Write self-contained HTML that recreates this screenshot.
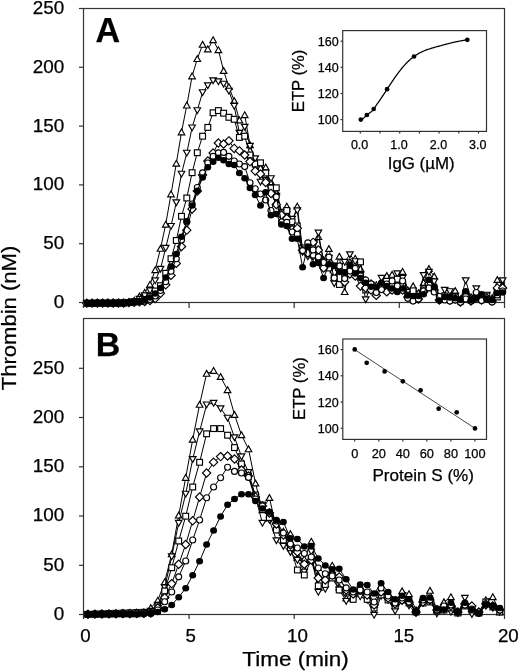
<!DOCTYPE html>
<html><head><meta charset="utf-8"><style>
html,body{margin:0;padding:0;background:#fff;}
svg{display:block;will-change:transform;filter:blur(0.3px);}
text{font-family:"Liberation Sans",sans-serif;fill:#000;stroke:#000;stroke-width:0.25px;}
.ax{fill:none;stroke:#333;stroke-width:1.2;}
.ln{fill:none;stroke:#000;stroke-width:1.0;}
.f{fill:#000;stroke:none;}
.o{fill:#fff;stroke:#000;stroke-width:1.15;}
</style></head><body>
<svg width="520" height="672" viewBox="0 0 520 672">
<rect width="520" height="672" fill="#fff"/>
<rect x="83.5" y="8.5" width="421.0" height="294.0" class="ax"/>
<rect x="83.5" y="318.5" width="421.0" height="296.0" class="ax"/>
<g>
<polyline points="86.8,303.2 92.1,303.2 97.3,303.1 102.6,303.1 107.9,303.1 113.1,303.1 118.4,303.0 123.6,303.0 128.9,302.3 134.2,300.5 139.4,296.3 144.7,292.7 150.0,284.5 155.2,270.0 160.5,248.6 165.7,224.5 171.0,194.2 176.3,163.5 181.5,132.2 186.8,105.4 192.1,76.2 197.3,58.9 202.6,44.6 207.8,49.2 213.1,40.0 218.4,50.0 223.6,70.8 228.9,86.9 234.2,100.8 239.4,120.2 244.7,115.0 250.0,145.0 255.2,160.0 260.5,168.0 265.7,167.3 271.0,182.0 276.3,192.0 281.5,214.0 286.8,206.4 292.1,222.0 297.3,206.4 302.6,250.0 307.8,247.0 313.1,253.0 318.4,236.9 323.6,260.0 328.9,248.8 334.2,270.0 339.4,256.5 344.7,291.9 349.9,262.0 355.2,258.5 360.5,268.8 365.7,280.0 371.0,283.0 376.3,285.0 381.5,282.0 386.8,275.8 392.1,274.6 397.3,280.0 402.6,271.7 407.8,290.0 413.1,286.1 418.4,293.0 423.6,282.7 428.9,268.8 434.2,276.3 439.4,298.0 444.7,295.0 449.9,296.0 455.2,290.8 460.5,299.0 465.7,295.4 471.0,297.0 476.3,294.0 481.5,296.0 486.8,297.0 492.1,298.0 497.3,279.8 502.6,285.0" class="ln"/>
<path d="M86.8 300.0L90.1 305.8L83.5 305.8Z" class="o"/><path d="M92.1 300.0L95.4 305.8L88.8 305.8Z" class="o"/><path d="M97.3 299.9L100.6 305.7L94.0 305.7Z" class="o"/><path d="M102.6 299.9L105.9 305.7L99.3 305.7Z" class="o"/><path d="M107.9 299.9L111.2 305.7L104.6 305.7Z" class="o"/><path d="M113.1 299.9L116.4 305.7L109.8 305.7Z" class="o"/><path d="M118.4 299.8L121.7 305.6L115.1 305.6Z" class="o"/><path d="M123.6 299.8L126.9 305.6L120.3 305.6Z" class="o"/><path d="M128.9 299.1L132.2 304.9L125.6 304.9Z" class="o"/><path d="M134.2 297.3L137.5 303.1L130.9 303.1Z" class="o"/><path d="M139.4 293.1L142.7 298.9L136.1 298.9Z" class="o"/><path d="M144.7 289.5L148.0 295.3L141.4 295.3Z" class="o"/><path d="M150.0 281.3L153.3 287.1L146.7 287.1Z" class="o"/><path d="M155.2 266.8L158.5 272.6L151.9 272.6Z" class="o"/><path d="M160.5 245.4L163.8 251.2L157.2 251.2Z" class="o"/><path d="M165.7 221.3L169.0 227.1L162.4 227.1Z" class="o"/><path d="M171.0 191.0L174.3 196.8L167.7 196.8Z" class="o"/><path d="M176.3 160.3L179.6 166.1L173.0 166.1Z" class="o"/><path d="M181.5 129.0L184.8 134.8L178.2 134.8Z" class="o"/><path d="M186.8 102.2L190.1 108.0L183.5 108.0Z" class="o"/><path d="M192.1 73.0L195.4 78.8L188.8 78.8Z" class="o"/><path d="M197.3 55.7L200.6 61.5L194.0 61.5Z" class="o"/><path d="M202.6 41.4L205.9 47.2L199.3 47.2Z" class="o"/><path d="M207.8 46.0L211.1 51.8L204.5 51.8Z" class="o"/><path d="M213.1 36.8L216.4 42.6L209.8 42.6Z" class="o"/><path d="M218.4 46.8L221.7 52.6L215.1 52.6Z" class="o"/><path d="M223.6 67.6L226.9 73.4L220.3 73.4Z" class="o"/><path d="M228.9 83.7L232.2 89.5L225.6 89.5Z" class="o"/><path d="M234.2 97.6L237.5 103.4L230.9 103.4Z" class="o"/><path d="M239.4 117.0L242.7 122.8L236.1 122.8Z" class="o"/><path d="M244.7 111.8L248.0 117.6L241.4 117.6Z" class="o"/><path d="M250.0 141.8L253.3 147.6L246.7 147.6Z" class="o"/><path d="M255.2 156.8L258.5 162.6L251.9 162.6Z" class="o"/><path d="M260.5 164.8L263.8 170.6L257.2 170.6Z" class="o"/><path d="M265.7 164.1L269.0 169.9L262.4 169.9Z" class="o"/><path d="M271.0 178.8L274.3 184.6L267.7 184.6Z" class="o"/><path d="M276.3 188.8L279.6 194.6L273.0 194.6Z" class="o"/><path d="M281.5 210.8L284.8 216.6L278.2 216.6Z" class="o"/><path d="M286.8 203.2L290.1 209.0L283.5 209.0Z" class="o"/><path d="M292.1 218.8L295.4 224.6L288.8 224.6Z" class="o"/><path d="M297.3 203.2L300.6 209.0L294.0 209.0Z" class="o"/><path d="M302.6 246.8L305.9 252.6L299.3 252.6Z" class="o"/><path d="M307.8 243.8L311.1 249.6L304.5 249.6Z" class="o"/><path d="M313.1 249.8L316.4 255.6L309.8 255.6Z" class="o"/><path d="M318.4 233.7L321.7 239.5L315.1 239.5Z" class="o"/><path d="M323.6 256.8L326.9 262.6L320.3 262.6Z" class="o"/><path d="M328.9 245.6L332.2 251.4L325.6 251.4Z" class="o"/><path d="M334.2 266.8L337.5 272.6L330.9 272.6Z" class="o"/><path d="M339.4 253.3L342.7 259.1L336.1 259.1Z" class="o"/><path d="M344.7 288.7L348.0 294.5L341.4 294.5Z" class="o"/><path d="M349.9 258.8L353.2 264.6L346.6 264.6Z" class="o"/><path d="M355.2 255.3L358.5 261.1L351.9 261.1Z" class="o"/><path d="M360.5 265.6L363.8 271.4L357.2 271.4Z" class="o"/><path d="M365.7 276.8L369.0 282.6L362.4 282.6Z" class="o"/><path d="M371.0 279.8L374.3 285.6L367.7 285.6Z" class="o"/><path d="M376.3 281.8L379.6 287.6L373.0 287.6Z" class="o"/><path d="M381.5 278.8L384.8 284.6L378.2 284.6Z" class="o"/><path d="M386.8 272.6L390.1 278.4L383.5 278.4Z" class="o"/><path d="M392.1 271.4L395.4 277.2L388.8 277.2Z" class="o"/><path d="M397.3 276.8L400.6 282.6L394.0 282.6Z" class="o"/><path d="M402.6 268.5L405.9 274.3L399.3 274.3Z" class="o"/><path d="M407.8 286.8L411.1 292.6L404.5 292.6Z" class="o"/><path d="M413.1 282.9L416.4 288.7L409.8 288.7Z" class="o"/><path d="M418.4 289.8L421.7 295.6L415.1 295.6Z" class="o"/><path d="M423.6 279.5L426.9 285.3L420.3 285.3Z" class="o"/><path d="M428.9 265.6L432.2 271.4L425.6 271.4Z" class="o"/><path d="M434.2 273.1L437.5 278.9L430.9 278.9Z" class="o"/><path d="M439.4 294.8L442.7 300.6L436.1 300.6Z" class="o"/><path d="M444.7 291.8L448.0 297.6L441.4 297.6Z" class="o"/><path d="M449.9 292.8L453.2 298.6L446.6 298.6Z" class="o"/><path d="M455.2 287.6L458.5 293.4L451.9 293.4Z" class="o"/><path d="M460.5 295.8L463.8 301.6L457.2 301.6Z" class="o"/><path d="M465.7 292.2L469.0 298.0L462.4 298.0Z" class="o"/><path d="M471.0 293.8L474.3 299.6L467.7 299.6Z" class="o"/><path d="M476.3 290.8L479.6 296.6L473.0 296.6Z" class="o"/><path d="M481.5 292.8L484.8 298.6L478.2 298.6Z" class="o"/><path d="M486.8 293.8L490.1 299.6L483.5 299.6Z" class="o"/><path d="M492.1 294.8L495.4 300.6L488.8 300.6Z" class="o"/><path d="M497.3 276.6L500.6 282.4L494.0 282.4Z" class="o"/><path d="M502.6 281.8L505.9 287.6L499.3 287.6Z" class="o"/>
<polyline points="86.8,303.2 92.1,303.2 97.3,303.1 102.6,303.1 107.9,303.1 113.1,303.1 118.4,303.0 123.6,303.0 128.9,302.2 134.2,301.5 139.4,299.0 144.7,295.5 150.0,290.5 155.2,280.5 160.5,268.9 165.7,248.0 171.0,226.1 176.3,202.4 181.5,173.8 186.8,152.8 192.1,127.6 197.3,110.3 202.6,92.3 207.8,85.4 213.1,80.5 218.4,81.5 223.6,83.8 228.9,90.8 234.2,106.0 239.4,132.9 244.7,126.9 250.0,146.0 255.2,158.4 260.5,181.8 265.7,180.0 271.0,178.3 276.3,196.0 281.5,212.0 286.8,214.0 292.1,219.0 297.3,210.5 302.6,252.0 307.8,256.5 313.1,257.0 318.4,232.7 323.6,262.0 328.9,258.0 334.2,283.3 339.4,266.0 344.7,262.0 349.9,254.4 355.2,261.3 360.5,275.0 365.7,299.4 371.0,285.0 376.3,290.0 381.5,278.0 386.8,288.0 392.1,284.0 397.3,273.5 402.6,278.0 407.8,292.0 413.1,294.0 418.4,297.0 423.6,275.2 428.9,272.0 434.2,281.5 439.4,297.0 444.7,290.0 449.9,291.3 455.2,296.0 460.5,300.0 465.7,280.4 471.0,299.0 476.3,288.4 481.5,297.0 486.8,294.8 492.1,301.0 497.3,292.0 502.6,280.4" class="ln"/>
<path d="M86.8 306.4L90.1 300.6L83.5 300.6Z" class="o"/><path d="M92.1 306.4L95.4 300.6L88.8 300.6Z" class="o"/><path d="M97.3 306.3L100.6 300.5L94.0 300.5Z" class="o"/><path d="M102.6 306.3L105.9 300.5L99.3 300.5Z" class="o"/><path d="M107.9 306.3L111.2 300.5L104.6 300.5Z" class="o"/><path d="M113.1 306.3L116.4 300.5L109.8 300.5Z" class="o"/><path d="M118.4 306.2L121.7 300.4L115.1 300.4Z" class="o"/><path d="M123.6 306.2L126.9 300.4L120.3 300.4Z" class="o"/><path d="M128.9 305.4L132.2 299.6L125.6 299.6Z" class="o"/><path d="M134.2 304.7L137.5 298.9L130.9 298.9Z" class="o"/><path d="M139.4 302.2L142.7 296.4L136.1 296.4Z" class="o"/><path d="M144.7 298.7L148.0 292.9L141.4 292.9Z" class="o"/><path d="M150.0 293.7L153.3 287.9L146.7 287.9Z" class="o"/><path d="M155.2 283.7L158.5 277.9L151.9 277.9Z" class="o"/><path d="M160.5 272.1L163.8 266.3L157.2 266.3Z" class="o"/><path d="M165.7 251.2L169.0 245.4L162.4 245.4Z" class="o"/><path d="M171.0 229.3L174.3 223.5L167.7 223.5Z" class="o"/><path d="M176.3 205.6L179.6 199.8L173.0 199.8Z" class="o"/><path d="M181.5 177.0L184.8 171.2L178.2 171.2Z" class="o"/><path d="M186.8 156.0L190.1 150.2L183.5 150.2Z" class="o"/><path d="M192.1 130.8L195.4 125.0L188.8 125.0Z" class="o"/><path d="M197.3 113.5L200.6 107.7L194.0 107.7Z" class="o"/><path d="M202.6 95.5L205.9 89.7L199.3 89.7Z" class="o"/><path d="M207.8 88.6L211.1 82.8L204.5 82.8Z" class="o"/><path d="M213.1 83.7L216.4 77.9L209.8 77.9Z" class="o"/><path d="M218.4 84.7L221.7 78.9L215.1 78.9Z" class="o"/><path d="M223.6 87.0L226.9 81.2L220.3 81.2Z" class="o"/><path d="M228.9 94.0L232.2 88.2L225.6 88.2Z" class="o"/><path d="M234.2 109.2L237.5 103.4L230.9 103.4Z" class="o"/><path d="M239.4 136.1L242.7 130.3L236.1 130.3Z" class="o"/><path d="M244.7 130.1L248.0 124.3L241.4 124.3Z" class="o"/><path d="M250.0 149.2L253.3 143.4L246.7 143.4Z" class="o"/><path d="M255.2 161.6L258.5 155.8L251.9 155.8Z" class="o"/><path d="M260.5 185.0L263.8 179.2L257.2 179.2Z" class="o"/><path d="M265.7 183.2L269.0 177.4L262.4 177.4Z" class="o"/><path d="M271.0 181.5L274.3 175.7L267.7 175.7Z" class="o"/><path d="M276.3 199.2L279.6 193.4L273.0 193.4Z" class="o"/><path d="M281.5 215.2L284.8 209.4L278.2 209.4Z" class="o"/><path d="M286.8 217.2L290.1 211.4L283.5 211.4Z" class="o"/><path d="M292.1 222.2L295.4 216.4L288.8 216.4Z" class="o"/><path d="M297.3 213.7L300.6 207.9L294.0 207.9Z" class="o"/><path d="M302.6 255.2L305.9 249.4L299.3 249.4Z" class="o"/><path d="M307.8 259.7L311.1 253.9L304.5 253.9Z" class="o"/><path d="M313.1 260.2L316.4 254.4L309.8 254.4Z" class="o"/><path d="M318.4 235.9L321.7 230.1L315.1 230.1Z" class="o"/><path d="M323.6 265.2L326.9 259.4L320.3 259.4Z" class="o"/><path d="M328.9 261.2L332.2 255.4L325.6 255.4Z" class="o"/><path d="M334.2 286.5L337.5 280.7L330.9 280.7Z" class="o"/><path d="M339.4 269.2L342.7 263.4L336.1 263.4Z" class="o"/><path d="M344.7 265.2L348.0 259.4L341.4 259.4Z" class="o"/><path d="M349.9 257.6L353.2 251.8L346.6 251.8Z" class="o"/><path d="M355.2 264.5L358.5 258.7L351.9 258.7Z" class="o"/><path d="M360.5 278.2L363.8 272.4L357.2 272.4Z" class="o"/><path d="M365.7 302.6L369.0 296.8L362.4 296.8Z" class="o"/><path d="M371.0 288.2L374.3 282.4L367.7 282.4Z" class="o"/><path d="M376.3 293.2L379.6 287.4L373.0 287.4Z" class="o"/><path d="M381.5 281.2L384.8 275.4L378.2 275.4Z" class="o"/><path d="M386.8 291.2L390.1 285.4L383.5 285.4Z" class="o"/><path d="M392.1 287.2L395.4 281.4L388.8 281.4Z" class="o"/><path d="M397.3 276.7L400.6 270.9L394.0 270.9Z" class="o"/><path d="M402.6 281.2L405.9 275.4L399.3 275.4Z" class="o"/><path d="M407.8 295.2L411.1 289.4L404.5 289.4Z" class="o"/><path d="M413.1 297.2L416.4 291.4L409.8 291.4Z" class="o"/><path d="M418.4 300.2L421.7 294.4L415.1 294.4Z" class="o"/><path d="M423.6 278.4L426.9 272.6L420.3 272.6Z" class="o"/><path d="M428.9 275.2L432.2 269.4L425.6 269.4Z" class="o"/><path d="M434.2 284.7L437.5 278.9L430.9 278.9Z" class="o"/><path d="M439.4 300.2L442.7 294.4L436.1 294.4Z" class="o"/><path d="M444.7 293.2L448.0 287.4L441.4 287.4Z" class="o"/><path d="M449.9 294.5L453.2 288.7L446.6 288.7Z" class="o"/><path d="M455.2 299.2L458.5 293.4L451.9 293.4Z" class="o"/><path d="M460.5 303.2L463.8 297.4L457.2 297.4Z" class="o"/><path d="M465.7 283.6L469.0 277.8L462.4 277.8Z" class="o"/><path d="M471.0 302.2L474.3 296.4L467.7 296.4Z" class="o"/><path d="M476.3 291.6L479.6 285.8L473.0 285.8Z" class="o"/><path d="M481.5 300.2L484.8 294.4L478.2 294.4Z" class="o"/><path d="M486.8 298.0L490.1 292.2L483.5 292.2Z" class="o"/><path d="M492.1 304.2L495.4 298.4L488.8 298.4Z" class="o"/><path d="M497.3 295.2L500.6 289.4L494.0 289.4Z" class="o"/><path d="M502.6 283.6L505.9 277.8L499.3 277.8Z" class="o"/>
<polyline points="86.8,303.2 92.1,303.2 97.3,303.1 102.6,303.1 107.9,303.1 113.1,303.1 118.4,303.0 123.6,303.0 128.9,302.5 134.2,302.0 139.4,301.5 144.7,299.5 150.0,296.5 155.2,291.0 160.5,285.7 165.7,273.3 171.0,258.7 176.3,240.5 181.5,216.3 186.8,198.0 192.1,172.7 197.3,152.7 202.6,136.2 207.8,127.4 213.1,112.8 218.4,110.6 223.6,113.2 228.9,117.3 234.2,119.3 239.4,137.4 244.7,136.2 250.0,155.0 255.2,164.0 260.5,162.8 265.7,173.0 271.0,188.0 276.3,187.8 281.5,213.0 286.8,210.5 292.1,221.8 297.3,226.0 302.6,248.0 307.8,253.0 313.1,255.0 318.4,258.0 323.6,262.0 328.9,268.0 334.2,278.0 339.4,284.5 344.7,276.0 349.9,270.0 355.2,272.0 360.5,261.9 365.7,290.0 371.0,288.0 376.3,292.0 381.5,285.0 386.8,290.0 392.1,286.0 397.3,279.2 402.6,284.0 407.8,295.0 413.1,290.8 418.4,297.0 423.6,290.0 428.9,282.0 434.2,288.0 439.4,299.0 444.7,296.0 449.9,298.0 455.2,297.0 460.5,301.0 465.7,294.0 471.0,300.0 476.3,295.0 481.5,297.0 486.8,296.0 492.1,300.0 497.3,297.0 502.6,290.0" class="ln"/>
<rect x="83.9" y="300.3" width="5.8" height="5.8" class="o"/><rect x="89.2" y="300.3" width="5.8" height="5.8" class="o"/><rect x="94.4" y="300.2" width="5.8" height="5.8" class="o"/><rect x="99.7" y="300.2" width="5.8" height="5.8" class="o"/><rect x="105.0" y="300.2" width="5.8" height="5.8" class="o"/><rect x="110.2" y="300.2" width="5.8" height="5.8" class="o"/><rect x="115.5" y="300.1" width="5.8" height="5.8" class="o"/><rect x="120.7" y="300.1" width="5.8" height="5.8" class="o"/><rect x="126.0" y="299.6" width="5.8" height="5.8" class="o"/><rect x="131.3" y="299.1" width="5.8" height="5.8" class="o"/><rect x="136.5" y="298.6" width="5.8" height="5.8" class="o"/><rect x="141.8" y="296.6" width="5.8" height="5.8" class="o"/><rect x="147.1" y="293.6" width="5.8" height="5.8" class="o"/><rect x="152.3" y="288.1" width="5.8" height="5.8" class="o"/><rect x="157.6" y="282.8" width="5.8" height="5.8" class="o"/><rect x="162.8" y="270.4" width="5.8" height="5.8" class="o"/><rect x="168.1" y="255.8" width="5.8" height="5.8" class="o"/><rect x="173.4" y="237.6" width="5.8" height="5.8" class="o"/><rect x="178.6" y="213.4" width="5.8" height="5.8" class="o"/><rect x="183.9" y="195.1" width="5.8" height="5.8" class="o"/><rect x="189.2" y="169.8" width="5.8" height="5.8" class="o"/><rect x="194.4" y="149.8" width="5.8" height="5.8" class="o"/><rect x="199.7" y="133.3" width="5.8" height="5.8" class="o"/><rect x="204.9" y="124.5" width="5.8" height="5.8" class="o"/><rect x="210.2" y="109.9" width="5.8" height="5.8" class="o"/><rect x="215.5" y="107.7" width="5.8" height="5.8" class="o"/><rect x="220.7" y="110.3" width="5.8" height="5.8" class="o"/><rect x="226.0" y="114.4" width="5.8" height="5.8" class="o"/><rect x="231.3" y="116.4" width="5.8" height="5.8" class="o"/><rect x="236.5" y="134.5" width="5.8" height="5.8" class="o"/><rect x="241.8" y="133.3" width="5.8" height="5.8" class="o"/><rect x="247.1" y="152.1" width="5.8" height="5.8" class="o"/><rect x="252.3" y="161.1" width="5.8" height="5.8" class="o"/><rect x="257.6" y="159.9" width="5.8" height="5.8" class="o"/><rect x="262.8" y="170.1" width="5.8" height="5.8" class="o"/><rect x="268.1" y="185.1" width="5.8" height="5.8" class="o"/><rect x="273.4" y="184.9" width="5.8" height="5.8" class="o"/><rect x="278.6" y="210.1" width="5.8" height="5.8" class="o"/><rect x="283.9" y="207.6" width="5.8" height="5.8" class="o"/><rect x="289.2" y="218.9" width="5.8" height="5.8" class="o"/><rect x="294.4" y="223.1" width="5.8" height="5.8" class="o"/><rect x="299.7" y="245.1" width="5.8" height="5.8" class="o"/><rect x="304.9" y="250.1" width="5.8" height="5.8" class="o"/><rect x="310.2" y="252.1" width="5.8" height="5.8" class="o"/><rect x="315.5" y="255.1" width="5.8" height="5.8" class="o"/><rect x="320.7" y="259.1" width="5.8" height="5.8" class="o"/><rect x="326.0" y="265.1" width="5.8" height="5.8" class="o"/><rect x="331.3" y="275.1" width="5.8" height="5.8" class="o"/><rect x="336.5" y="281.6" width="5.8" height="5.8" class="o"/><rect x="341.8" y="273.1" width="5.8" height="5.8" class="o"/><rect x="347.1" y="267.1" width="5.8" height="5.8" class="o"/><rect x="352.3" y="269.1" width="5.8" height="5.8" class="o"/><rect x="357.6" y="259.0" width="5.8" height="5.8" class="o"/><rect x="362.8" y="287.1" width="5.8" height="5.8" class="o"/><rect x="368.1" y="285.1" width="5.8" height="5.8" class="o"/><rect x="373.4" y="289.1" width="5.8" height="5.8" class="o"/><rect x="378.6" y="282.1" width="5.8" height="5.8" class="o"/><rect x="383.9" y="287.1" width="5.8" height="5.8" class="o"/><rect x="389.2" y="283.1" width="5.8" height="5.8" class="o"/><rect x="394.4" y="276.3" width="5.8" height="5.8" class="o"/><rect x="399.7" y="281.1" width="5.8" height="5.8" class="o"/><rect x="404.9" y="292.1" width="5.8" height="5.8" class="o"/><rect x="410.2" y="287.9" width="5.8" height="5.8" class="o"/><rect x="415.5" y="294.1" width="5.8" height="5.8" class="o"/><rect x="420.7" y="287.1" width="5.8" height="5.8" class="o"/><rect x="426.0" y="279.1" width="5.8" height="5.8" class="o"/><rect x="431.3" y="285.1" width="5.8" height="5.8" class="o"/><rect x="436.5" y="296.1" width="5.8" height="5.8" class="o"/><rect x="441.8" y="293.1" width="5.8" height="5.8" class="o"/><rect x="447.0" y="295.1" width="5.8" height="5.8" class="o"/><rect x="452.3" y="294.1" width="5.8" height="5.8" class="o"/><rect x="457.6" y="298.1" width="5.8" height="5.8" class="o"/><rect x="462.8" y="291.1" width="5.8" height="5.8" class="o"/><rect x="468.1" y="297.1" width="5.8" height="5.8" class="o"/><rect x="473.4" y="292.1" width="5.8" height="5.8" class="o"/><rect x="478.6" y="294.1" width="5.8" height="5.8" class="o"/><rect x="483.9" y="293.1" width="5.8" height="5.8" class="o"/><rect x="489.2" y="297.1" width="5.8" height="5.8" class="o"/><rect x="494.4" y="294.1" width="5.8" height="5.8" class="o"/><rect x="499.7" y="287.1" width="5.8" height="5.8" class="o"/>
<polyline points="86.8,303.2 92.1,303.2 97.3,303.1 102.6,303.1 107.9,303.1 113.1,303.1 118.4,303.0 123.6,303.0 128.9,302.6 134.2,302.2 139.4,301.9 144.7,301.5 150.0,300.5 155.2,298.5 160.5,293.3 165.7,284.8 171.0,275.4 176.3,263.4 181.5,246.5 186.8,230.2 192.1,208.9 197.3,191.0 202.6,175.0 207.8,161.1 213.1,153.0 218.4,143.0 223.6,144.0 228.9,140.8 234.2,148.4 239.4,150.8 244.7,155.0 250.0,161.6 255.2,171.1 260.5,173.9 265.7,182.4 271.0,193.4 276.3,204.5 281.5,215.0 286.8,218.6 292.1,229.5 297.3,228.3 302.6,250.6 307.8,253.0 313.1,242.3 318.4,250.0 323.6,268.0 328.9,262.0 334.2,272.0 339.4,270.0 344.7,282.0 349.9,274.0 355.2,276.0 360.5,286.1 365.7,288.0 371.0,290.0 376.3,295.4 381.5,288.0 386.8,291.9 392.1,290.0 397.3,288.0 402.6,290.0 407.8,297.0 413.1,298.0 418.4,299.0 423.6,292.0 428.9,284.0 434.2,290.0 439.4,300.0 444.7,298.0 449.9,300.0 455.2,299.0 460.5,302.0 465.7,296.0 471.0,301.0 476.3,298.0 481.5,300.0 486.8,298.0 492.1,301.0 497.3,287.9 502.6,288.0" class="ln"/>
<path d="M86.8 299.1L91.0 303.2L86.8 307.3L82.6 303.2Z" class="o"/><path d="M92.1 299.0L96.2 303.2L92.1 307.3L87.9 303.2Z" class="o"/><path d="M97.3 299.0L101.5 303.1L97.3 307.3L93.2 303.1Z" class="o"/><path d="M102.6 299.0L106.7 303.1L102.6 307.3L98.4 303.1Z" class="o"/><path d="M107.9 298.9L112.0 303.1L107.9 307.2L103.7 303.1Z" class="o"/><path d="M113.1 298.9L117.3 303.1L113.1 307.2L109.0 303.1Z" class="o"/><path d="M118.4 298.9L122.5 303.0L118.4 307.2L114.2 303.0Z" class="o"/><path d="M123.6 298.9L127.8 303.0L123.6 307.1L119.5 303.0Z" class="o"/><path d="M128.9 298.5L133.1 302.6L128.9 306.8L124.8 302.6Z" class="o"/><path d="M134.2 298.1L138.3 302.2L134.2 306.4L130.0 302.2Z" class="o"/><path d="M139.4 297.7L143.6 301.9L139.4 306.0L135.3 301.9Z" class="o"/><path d="M144.7 297.4L148.8 301.5L144.7 305.6L140.5 301.5Z" class="o"/><path d="M150.0 296.4L154.1 300.5L150.0 304.6L145.8 300.5Z" class="o"/><path d="M155.2 294.4L159.4 298.5L155.2 302.6L151.1 298.5Z" class="o"/><path d="M160.5 289.2L164.6 293.3L160.5 297.4L156.3 293.3Z" class="o"/><path d="M165.7 280.7L169.9 284.8L165.7 288.9L161.6 284.8Z" class="o"/><path d="M171.0 271.2L175.2 275.4L171.0 279.5L166.9 275.4Z" class="o"/><path d="M176.3 259.2L180.4 263.4L176.3 267.5L172.1 263.4Z" class="o"/><path d="M181.5 242.3L185.7 246.5L181.5 250.7L177.4 246.5Z" class="o"/><path d="M186.8 226.0L190.9 230.2L186.8 234.3L182.6 230.2Z" class="o"/><path d="M192.1 204.8L196.2 208.9L192.1 213.1L187.9 208.9Z" class="o"/><path d="M197.3 186.8L201.5 191.0L197.3 195.2L193.2 191.0Z" class="o"/><path d="M202.6 170.8L206.7 175.0L202.6 179.2L198.4 175.0Z" class="o"/><path d="M207.8 156.9L212.0 161.1L207.8 165.2L203.7 161.1Z" class="o"/><path d="M213.1 148.8L217.3 153.0L213.1 157.2L209.0 153.0Z" class="o"/><path d="M218.4 138.8L222.5 143.0L218.4 147.2L214.2 143.0Z" class="o"/><path d="M223.6 139.8L227.8 144.0L223.6 148.2L219.5 144.0Z" class="o"/><path d="M228.9 136.7L233.1 140.8L228.9 145.0L224.8 140.8Z" class="o"/><path d="M234.2 144.2L238.3 148.4L234.2 152.6L230.0 148.4Z" class="o"/><path d="M239.4 146.7L243.6 150.8L239.4 155.0L235.3 150.8Z" class="o"/><path d="M244.7 150.8L248.8 155.0L244.7 159.2L240.5 155.0Z" class="o"/><path d="M250.0 157.4L254.1 161.6L250.0 165.8L245.8 161.6Z" class="o"/><path d="M255.2 166.9L259.4 171.1L255.2 175.2L251.1 171.1Z" class="o"/><path d="M260.5 169.8L264.6 173.9L260.5 178.1L256.3 173.9Z" class="o"/><path d="M265.7 178.2L269.9 182.4L265.7 186.6L261.6 182.4Z" class="o"/><path d="M271.0 189.2L275.2 193.4L271.0 197.6L266.9 193.4Z" class="o"/><path d="M276.3 200.3L280.4 204.5L276.3 208.7L272.1 204.5Z" class="o"/><path d="M281.5 210.8L285.7 215.0L281.5 219.2L277.4 215.0Z" class="o"/><path d="M286.8 214.4L290.9 218.6L286.8 222.8L282.6 218.6Z" class="o"/><path d="M292.1 225.3L296.2 229.5L292.1 233.7L287.9 229.5Z" class="o"/><path d="M297.3 224.2L301.5 228.3L297.3 232.5L293.2 228.3Z" class="o"/><path d="M302.6 246.4L306.7 250.6L302.6 254.8L298.4 250.6Z" class="o"/><path d="M307.8 248.8L312.0 253.0L307.8 257.1L303.7 253.0Z" class="o"/><path d="M313.1 238.2L317.3 242.3L313.1 246.5L309.0 242.3Z" class="o"/><path d="M318.4 245.8L322.5 250.0L318.4 254.2L314.2 250.0Z" class="o"/><path d="M323.6 263.9L327.8 268.0L323.6 272.1L319.5 268.0Z" class="o"/><path d="M328.9 257.9L333.0 262.0L328.9 266.1L324.7 262.0Z" class="o"/><path d="M334.2 267.9L338.3 272.0L334.2 276.1L330.0 272.0Z" class="o"/><path d="M339.4 265.9L343.6 270.0L339.4 274.1L335.3 270.0Z" class="o"/><path d="M344.7 277.9L348.8 282.0L344.7 286.1L340.5 282.0Z" class="o"/><path d="M349.9 269.9L354.1 274.0L349.9 278.1L345.8 274.0Z" class="o"/><path d="M355.2 271.9L359.4 276.0L355.2 280.1L351.1 276.0Z" class="o"/><path d="M360.5 282.0L364.6 286.1L360.5 290.2L356.3 286.1Z" class="o"/><path d="M365.7 283.9L369.9 288.0L365.7 292.1L361.6 288.0Z" class="o"/><path d="M371.0 285.9L375.2 290.0L371.0 294.1L366.9 290.0Z" class="o"/><path d="M376.3 291.2L380.4 295.4L376.3 299.5L372.1 295.4Z" class="o"/><path d="M381.5 283.9L385.7 288.0L381.5 292.1L377.4 288.0Z" class="o"/><path d="M386.8 287.8L390.9 291.9L386.8 296.0L382.6 291.9Z" class="o"/><path d="M392.1 285.9L396.2 290.0L392.1 294.1L387.9 290.0Z" class="o"/><path d="M397.3 283.9L401.5 288.0L397.3 292.1L393.2 288.0Z" class="o"/><path d="M402.6 285.9L406.7 290.0L402.6 294.1L398.4 290.0Z" class="o"/><path d="M407.8 292.9L412.0 297.0L407.8 301.1L403.7 297.0Z" class="o"/><path d="M413.1 293.9L417.3 298.0L413.1 302.1L409.0 298.0Z" class="o"/><path d="M418.4 294.9L422.5 299.0L418.4 303.1L414.2 299.0Z" class="o"/><path d="M423.6 287.9L427.8 292.0L423.6 296.1L419.5 292.0Z" class="o"/><path d="M428.9 279.9L433.0 284.0L428.9 288.1L424.7 284.0Z" class="o"/><path d="M434.2 285.9L438.3 290.0L434.2 294.1L430.0 290.0Z" class="o"/><path d="M439.4 295.9L443.6 300.0L439.4 304.1L435.3 300.0Z" class="o"/><path d="M444.7 293.9L448.8 298.0L444.7 302.1L440.5 298.0Z" class="o"/><path d="M449.9 295.9L454.1 300.0L449.9 304.1L445.8 300.0Z" class="o"/><path d="M455.2 294.9L459.4 299.0L455.2 303.1L451.1 299.0Z" class="o"/><path d="M460.5 297.9L464.6 302.0L460.5 306.1L456.3 302.0Z" class="o"/><path d="M465.7 291.9L469.9 296.0L465.7 300.1L461.6 296.0Z" class="o"/><path d="M471.0 296.9L475.1 301.0L471.0 305.1L466.8 301.0Z" class="o"/><path d="M476.3 293.9L480.4 298.0L476.3 302.1L472.1 298.0Z" class="o"/><path d="M481.5 295.9L485.7 300.0L481.5 304.1L477.4 300.0Z" class="o"/><path d="M486.8 293.9L490.9 298.0L486.8 302.1L482.6 298.0Z" class="o"/><path d="M492.1 296.9L496.2 301.0L492.1 305.1L487.9 301.0Z" class="o"/><path d="M497.3 283.8L501.5 287.9L497.3 292.0L493.2 287.9Z" class="o"/><path d="M502.6 283.9L506.7 288.0L502.6 292.1L498.4 288.0Z" class="o"/>
<polyline points="86.8,303.2 92.1,303.2 97.3,303.1 102.6,303.1 107.9,303.1 113.1,303.1 118.4,303.0 123.6,303.0 128.9,302.5 134.2,302.0 139.4,301.5 144.7,301.0 150.0,299.5 155.2,296.0 160.5,290.5 165.7,281.7 171.0,271.2 176.3,258.7 181.5,240.0 186.8,222.0 192.1,204.0 197.3,187.5 202.6,172.8 207.8,163.0 213.1,156.4 218.4,152.8 223.6,152.4 228.9,156.3 234.2,161.0 239.4,164.0 244.7,166.6 250.0,182.7 255.2,188.7 260.5,194.0 265.7,200.0 271.0,210.5 276.3,196.9 281.5,221.8 286.8,222.4 292.1,232.0 297.3,234.2 302.6,250.6 307.8,242.9 313.1,250.0 318.4,257.0 323.6,262.5 328.9,257.1 334.2,278.0 339.4,266.0 344.7,278.6 349.9,271.1 355.2,268.3 360.5,276.0 365.7,280.0 371.0,283.8 376.3,292.5 381.5,289.6 386.8,284.0 392.1,281.0 397.3,286.0 402.6,281.0 407.8,298.3 413.1,301.1 418.4,299.0 423.6,291.0 428.9,287.9 434.2,292.0 439.4,296.5 444.7,300.0 449.9,301.1 455.2,300.0 460.5,302.3 465.7,299.0 471.0,301.0 476.3,292.5 481.5,300.6 486.8,299.0 492.1,302.0 497.3,295.0 502.6,291.0" class="ln"/>
<circle cx="86.8" cy="303.2" r="3.0" class="o"/><circle cx="92.1" cy="303.2" r="3.0" class="o"/><circle cx="97.3" cy="303.1" r="3.0" class="o"/><circle cx="102.6" cy="303.1" r="3.0" class="o"/><circle cx="107.9" cy="303.1" r="3.0" class="o"/><circle cx="113.1" cy="303.1" r="3.0" class="o"/><circle cx="118.4" cy="303.0" r="3.0" class="o"/><circle cx="123.6" cy="303.0" r="3.0" class="o"/><circle cx="128.9" cy="302.5" r="3.0" class="o"/><circle cx="134.2" cy="302.0" r="3.0" class="o"/><circle cx="139.4" cy="301.5" r="3.0" class="o"/><circle cx="144.7" cy="301.0" r="3.0" class="o"/><circle cx="150.0" cy="299.5" r="3.0" class="o"/><circle cx="155.2" cy="296.0" r="3.0" class="o"/><circle cx="160.5" cy="290.5" r="3.0" class="o"/><circle cx="165.7" cy="281.7" r="3.0" class="o"/><circle cx="171.0" cy="271.2" r="3.0" class="o"/><circle cx="176.3" cy="258.7" r="3.0" class="o"/><circle cx="181.5" cy="240.0" r="3.0" class="o"/><circle cx="186.8" cy="222.0" r="3.0" class="o"/><circle cx="192.1" cy="204.0" r="3.0" class="o"/><circle cx="197.3" cy="187.5" r="3.0" class="o"/><circle cx="202.6" cy="172.8" r="3.0" class="o"/><circle cx="207.8" cy="163.0" r="3.0" class="o"/><circle cx="213.1" cy="156.4" r="3.0" class="o"/><circle cx="218.4" cy="152.8" r="3.0" class="o"/><circle cx="223.6" cy="152.4" r="3.0" class="o"/><circle cx="228.9" cy="156.3" r="3.0" class="o"/><circle cx="234.2" cy="161.0" r="3.0" class="o"/><circle cx="239.4" cy="164.0" r="3.0" class="o"/><circle cx="244.7" cy="166.6" r="3.0" class="o"/><circle cx="250.0" cy="182.7" r="3.0" class="o"/><circle cx="255.2" cy="188.7" r="3.0" class="o"/><circle cx="260.5" cy="194.0" r="3.0" class="o"/><circle cx="265.7" cy="200.0" r="3.0" class="o"/><circle cx="271.0" cy="210.5" r="3.0" class="o"/><circle cx="276.3" cy="196.9" r="3.0" class="o"/><circle cx="281.5" cy="221.8" r="3.0" class="o"/><circle cx="286.8" cy="222.4" r="3.0" class="o"/><circle cx="292.1" cy="232.0" r="3.0" class="o"/><circle cx="297.3" cy="234.2" r="3.0" class="o"/><circle cx="302.6" cy="250.6" r="3.0" class="o"/><circle cx="307.8" cy="242.9" r="3.0" class="o"/><circle cx="313.1" cy="250.0" r="3.0" class="o"/><circle cx="318.4" cy="257.0" r="3.0" class="o"/><circle cx="323.6" cy="262.5" r="3.0" class="o"/><circle cx="328.9" cy="257.1" r="3.0" class="o"/><circle cx="334.2" cy="278.0" r="3.0" class="o"/><circle cx="339.4" cy="266.0" r="3.0" class="o"/><circle cx="344.7" cy="278.6" r="3.0" class="o"/><circle cx="349.9" cy="271.1" r="3.0" class="o"/><circle cx="355.2" cy="268.3" r="3.0" class="o"/><circle cx="360.5" cy="276.0" r="3.0" class="o"/><circle cx="365.7" cy="280.0" r="3.0" class="o"/><circle cx="371.0" cy="283.8" r="3.0" class="o"/><circle cx="376.3" cy="292.5" r="3.0" class="o"/><circle cx="381.5" cy="289.6" r="3.0" class="o"/><circle cx="386.8" cy="284.0" r="3.0" class="o"/><circle cx="392.1" cy="281.0" r="3.0" class="o"/><circle cx="397.3" cy="286.0" r="3.0" class="o"/><circle cx="402.6" cy="281.0" r="3.0" class="o"/><circle cx="407.8" cy="298.3" r="3.0" class="o"/><circle cx="413.1" cy="301.1" r="3.0" class="o"/><circle cx="418.4" cy="299.0" r="3.0" class="o"/><circle cx="423.6" cy="291.0" r="3.0" class="o"/><circle cx="428.9" cy="287.9" r="3.0" class="o"/><circle cx="434.2" cy="292.0" r="3.0" class="o"/><circle cx="439.4" cy="296.5" r="3.0" class="o"/><circle cx="444.7" cy="300.0" r="3.0" class="o"/><circle cx="449.9" cy="301.1" r="3.0" class="o"/><circle cx="455.2" cy="300.0" r="3.0" class="o"/><circle cx="460.5" cy="302.3" r="3.0" class="o"/><circle cx="465.7" cy="299.0" r="3.0" class="o"/><circle cx="471.0" cy="301.0" r="3.0" class="o"/><circle cx="476.3" cy="292.5" r="3.0" class="o"/><circle cx="481.5" cy="300.6" r="3.0" class="o"/><circle cx="486.8" cy="299.0" r="3.0" class="o"/><circle cx="492.1" cy="302.0" r="3.0" class="o"/><circle cx="497.3" cy="295.0" r="3.0" class="o"/><circle cx="502.6" cy="291.0" r="3.0" class="o"/>
<polyline points="86.8,303.0 92.1,303.0 97.3,303.0 102.6,303.0 107.9,303.0 113.1,303.0 118.4,303.0 123.6,303.0 128.9,302.6 134.2,302.0 139.4,301.2 144.7,300.0 150.0,297.5 155.2,293.5 160.5,287.9 165.7,277.5 171.0,266.6 176.3,254.0 181.5,236.7 186.8,221.2 192.1,205.6 197.3,190.8 202.6,177.6 207.8,167.2 213.1,161.8 218.4,157.8 223.6,160.2 228.9,163.9 234.2,165.0 239.4,173.0 244.7,178.2 250.0,188.1 255.2,195.0 260.5,205.5 265.7,192.2 271.0,215.2 276.3,214.0 281.5,224.5 286.8,226.0 292.1,238.7 297.3,238.7 302.6,267.3 307.8,246.4 313.1,264.3 318.4,263.0 323.6,278.0 328.9,264.3 334.2,265.5 339.4,272.0 344.7,272.3 349.9,264.8 355.2,273.4 360.5,278.0 365.7,282.7 371.0,286.7 376.3,287.3 381.5,282.7 386.8,286.1 392.1,288.4 397.3,291.9 402.6,288.4 407.8,295.4 413.1,296.0 418.4,296.0 423.6,294.2 428.9,279.8 434.2,287.3 439.4,300.6 444.7,297.0 449.9,297.5 455.2,298.3 460.5,300.0 465.7,291.3 471.0,300.0 476.3,297.7 481.5,294.2 486.8,298.8 492.1,300.0 497.3,293.1 502.6,292.5" class="ln"/>
<ellipse cx="86.8" cy="303.0" rx="3.45" ry="3.25" class="f"/><ellipse cx="92.1" cy="303.0" rx="3.45" ry="3.25" class="f"/><ellipse cx="97.3" cy="303.0" rx="3.45" ry="3.25" class="f"/><ellipse cx="102.6" cy="303.0" rx="3.45" ry="3.25" class="f"/><ellipse cx="107.9" cy="303.0" rx="3.45" ry="3.25" class="f"/><ellipse cx="113.1" cy="303.0" rx="3.45" ry="3.25" class="f"/><ellipse cx="118.4" cy="303.0" rx="3.45" ry="3.25" class="f"/><ellipse cx="123.6" cy="303.0" rx="3.45" ry="3.25" class="f"/><ellipse cx="128.9" cy="302.6" rx="3.45" ry="3.25" class="f"/><ellipse cx="134.2" cy="302.0" rx="3.45" ry="3.25" class="f"/><ellipse cx="139.4" cy="301.2" rx="3.45" ry="3.25" class="f"/><ellipse cx="144.7" cy="300.0" rx="3.45" ry="3.25" class="f"/><ellipse cx="150.0" cy="297.5" rx="3.45" ry="3.25" class="f"/><ellipse cx="155.2" cy="293.5" rx="3.45" ry="3.25" class="f"/><ellipse cx="160.5" cy="287.9" rx="3.45" ry="3.25" class="f"/><ellipse cx="165.7" cy="277.5" rx="3.45" ry="3.25" class="f"/><ellipse cx="171.0" cy="266.6" rx="3.45" ry="3.25" class="f"/><ellipse cx="176.3" cy="254.0" rx="3.45" ry="3.25" class="f"/><ellipse cx="181.5" cy="236.7" rx="3.45" ry="3.25" class="f"/><ellipse cx="186.8" cy="221.2" rx="3.45" ry="3.25" class="f"/><ellipse cx="192.1" cy="205.6" rx="3.45" ry="3.25" class="f"/><ellipse cx="197.3" cy="190.8" rx="3.45" ry="3.25" class="f"/><ellipse cx="202.6" cy="177.6" rx="3.45" ry="3.25" class="f"/><ellipse cx="207.8" cy="167.2" rx="3.45" ry="3.25" class="f"/><ellipse cx="213.1" cy="161.8" rx="3.45" ry="3.25" class="f"/><ellipse cx="218.4" cy="157.8" rx="3.45" ry="3.25" class="f"/><ellipse cx="223.6" cy="160.2" rx="3.45" ry="3.25" class="f"/><ellipse cx="228.9" cy="163.9" rx="3.45" ry="3.25" class="f"/><ellipse cx="234.2" cy="165.0" rx="3.45" ry="3.25" class="f"/><ellipse cx="239.4" cy="173.0" rx="3.45" ry="3.25" class="f"/><ellipse cx="244.7" cy="178.2" rx="3.45" ry="3.25" class="f"/><ellipse cx="250.0" cy="188.1" rx="3.45" ry="3.25" class="f"/><ellipse cx="255.2" cy="195.0" rx="3.45" ry="3.25" class="f"/><ellipse cx="260.5" cy="205.5" rx="3.45" ry="3.25" class="f"/><ellipse cx="265.7" cy="192.2" rx="3.45" ry="3.25" class="f"/><ellipse cx="271.0" cy="215.2" rx="3.45" ry="3.25" class="f"/><ellipse cx="276.3" cy="214.0" rx="3.45" ry="3.25" class="f"/><ellipse cx="281.5" cy="224.5" rx="3.45" ry="3.25" class="f"/><ellipse cx="286.8" cy="226.0" rx="3.45" ry="3.25" class="f"/><ellipse cx="292.1" cy="238.7" rx="3.45" ry="3.25" class="f"/><ellipse cx="297.3" cy="238.7" rx="3.45" ry="3.25" class="f"/><ellipse cx="302.6" cy="267.3" rx="3.45" ry="3.25" class="f"/><ellipse cx="307.8" cy="246.4" rx="3.45" ry="3.25" class="f"/><ellipse cx="313.1" cy="264.3" rx="3.45" ry="3.25" class="f"/><ellipse cx="318.4" cy="263.0" rx="3.45" ry="3.25" class="f"/><ellipse cx="323.6" cy="278.0" rx="3.45" ry="3.25" class="f"/><ellipse cx="328.9" cy="264.3" rx="3.45" ry="3.25" class="f"/><ellipse cx="334.2" cy="265.5" rx="3.45" ry="3.25" class="f"/><ellipse cx="339.4" cy="272.0" rx="3.45" ry="3.25" class="f"/><ellipse cx="344.7" cy="272.3" rx="3.45" ry="3.25" class="f"/><ellipse cx="349.9" cy="264.8" rx="3.45" ry="3.25" class="f"/><ellipse cx="355.2" cy="273.4" rx="3.45" ry="3.25" class="f"/><ellipse cx="360.5" cy="278.0" rx="3.45" ry="3.25" class="f"/><ellipse cx="365.7" cy="282.7" rx="3.45" ry="3.25" class="f"/><ellipse cx="371.0" cy="286.7" rx="3.45" ry="3.25" class="f"/><ellipse cx="376.3" cy="287.3" rx="3.45" ry="3.25" class="f"/><ellipse cx="381.5" cy="282.7" rx="3.45" ry="3.25" class="f"/><ellipse cx="386.8" cy="286.1" rx="3.45" ry="3.25" class="f"/><ellipse cx="392.1" cy="288.4" rx="3.45" ry="3.25" class="f"/><ellipse cx="397.3" cy="291.9" rx="3.45" ry="3.25" class="f"/><ellipse cx="402.6" cy="288.4" rx="3.45" ry="3.25" class="f"/><ellipse cx="407.8" cy="295.4" rx="3.45" ry="3.25" class="f"/><ellipse cx="413.1" cy="296.0" rx="3.45" ry="3.25" class="f"/><ellipse cx="418.4" cy="296.0" rx="3.45" ry="3.25" class="f"/><ellipse cx="423.6" cy="294.2" rx="3.45" ry="3.25" class="f"/><ellipse cx="428.9" cy="279.8" rx="3.45" ry="3.25" class="f"/><ellipse cx="434.2" cy="287.3" rx="3.45" ry="3.25" class="f"/><ellipse cx="439.4" cy="300.6" rx="3.45" ry="3.25" class="f"/><ellipse cx="444.7" cy="297.0" rx="3.45" ry="3.25" class="f"/><ellipse cx="449.9" cy="297.5" rx="3.45" ry="3.25" class="f"/><ellipse cx="455.2" cy="298.3" rx="3.45" ry="3.25" class="f"/><ellipse cx="460.5" cy="300.0" rx="3.45" ry="3.25" class="f"/><ellipse cx="465.7" cy="291.3" rx="3.45" ry="3.25" class="f"/><ellipse cx="471.0" cy="300.0" rx="3.45" ry="3.25" class="f"/><ellipse cx="476.3" cy="297.7" rx="3.45" ry="3.25" class="f"/><ellipse cx="481.5" cy="294.2" rx="3.45" ry="3.25" class="f"/><ellipse cx="486.8" cy="298.8" rx="3.45" ry="3.25" class="f"/><ellipse cx="492.1" cy="300.0" rx="3.45" ry="3.25" class="f"/><ellipse cx="497.3" cy="293.1" rx="3.45" ry="3.25" class="f"/><ellipse cx="502.6" cy="292.5" rx="3.45" ry="3.25" class="f"/>
</g>
<g>
<polyline points="88.0,614.3 94.9,614.3 101.9,614.2 108.9,614.2 115.9,614.1 122.9,614.1 129.8,614.0 136.8,614.0 143.8,612.5 150.8,607.9 157.8,600.5 164.7,582.0 171.7,554.1 178.7,515.4 185.7,477.7 192.7,439.5 199.6,404.6 206.6,373.6 213.6,370.7 220.6,376.8 227.6,390.0 234.5,414.8 241.5,435.0 248.5,449.1 255.5,483.3 262.4,510.0 269.4,497.8 276.4,528.0 283.4,531.4 290.4,533.9 297.4,557.9 304.3,559.2 311.3,541.5 318.3,575.6 325.3,579.4 332.2,565.5 339.2,587.3 346.2,598.3 353.2,592.0 360.2,590.0 367.2,593.0 374.1,604.6 381.1,591.9 388.1,597.0 395.1,603.0 402.1,591.1 409.0,594.0 416.0,610.0 423.0,600.0 430.0,590.6 436.9,610.0 443.9,602.1 450.9,597.0 457.9,612.0 464.9,604.0 471.9,608.0 478.8,612.0 485.8,600.0 492.8,597.0 499.8,612.0" class="ln"/>
<path d="M88.0 611.1L91.2 616.9L84.7 616.9Z" class="o"/><path d="M94.9 611.1L98.2 616.9L91.6 616.9Z" class="o"/><path d="M101.9 611.0L105.2 616.8L98.6 616.8Z" class="o"/><path d="M108.9 611.0L112.2 616.8L105.6 616.8Z" class="o"/><path d="M115.9 610.9L119.2 616.7L112.6 616.7Z" class="o"/><path d="M122.9 610.9L126.2 616.7L119.6 616.7Z" class="o"/><path d="M129.8 610.8L133.1 616.6L126.5 616.6Z" class="o"/><path d="M136.8 610.8L140.1 616.6L133.5 616.6Z" class="o"/><path d="M143.8 609.3L147.1 615.1L140.5 615.1Z" class="o"/><path d="M150.8 604.7L154.1 610.5L147.5 610.5Z" class="o"/><path d="M157.8 597.3L161.1 603.1L154.4 603.1Z" class="o"/><path d="M164.7 578.8L168.0 584.6L161.4 584.6Z" class="o"/><path d="M171.7 550.9L175.0 556.7L168.4 556.7Z" class="o"/><path d="M178.7 512.2L182.0 518.0L175.4 518.0Z" class="o"/><path d="M185.7 474.5L189.0 480.3L182.4 480.3Z" class="o"/><path d="M192.7 436.3L196.0 442.1L189.3 442.1Z" class="o"/><path d="M199.6 401.4L202.9 407.2L196.3 407.2Z" class="o"/><path d="M206.6 370.4L209.9 376.2L203.3 376.2Z" class="o"/><path d="M213.6 367.5L216.9 373.3L210.3 373.3Z" class="o"/><path d="M220.6 373.6L223.9 379.4L217.3 379.4Z" class="o"/><path d="M227.6 386.8L230.9 392.6L224.2 392.6Z" class="o"/><path d="M234.5 411.6L237.8 417.4L231.2 417.4Z" class="o"/><path d="M241.5 431.8L244.8 437.6L238.2 437.6Z" class="o"/><path d="M248.5 445.9L251.8 451.7L245.2 451.7Z" class="o"/><path d="M255.5 480.1L258.8 485.9L252.2 485.9Z" class="o"/><path d="M262.4 506.8L265.8 512.6L259.1 512.6Z" class="o"/><path d="M269.4 494.6L272.7 500.4L266.1 500.4Z" class="o"/><path d="M276.4 524.8L279.7 530.6L273.1 530.6Z" class="o"/><path d="M283.4 528.2L286.7 534.0L280.1 534.0Z" class="o"/><path d="M290.4 530.7L293.7 536.5L287.1 536.5Z" class="o"/><path d="M297.4 554.7L300.7 560.5L294.1 560.5Z" class="o"/><path d="M304.3 556.0L307.6 561.8L301.0 561.8Z" class="o"/><path d="M311.3 538.3L314.6 544.1L308.0 544.1Z" class="o"/><path d="M318.3 572.4L321.6 578.2L315.0 578.2Z" class="o"/><path d="M325.3 576.2L328.6 582.0L322.0 582.0Z" class="o"/><path d="M332.2 562.3L335.6 568.1L328.9 568.1Z" class="o"/><path d="M339.2 584.1L342.5 589.9L335.9 589.9Z" class="o"/><path d="M346.2 595.1L349.5 600.9L342.9 600.9Z" class="o"/><path d="M353.2 588.8L356.5 594.6L349.9 594.6Z" class="o"/><path d="M360.2 586.8L363.5 592.6L356.9 592.6Z" class="o"/><path d="M367.2 589.8L370.5 595.6L363.9 595.6Z" class="o"/><path d="M374.1 601.4L377.4 607.2L370.8 607.2Z" class="o"/><path d="M381.1 588.7L384.4 594.5L377.8 594.5Z" class="o"/><path d="M388.1 593.8L391.4 599.6L384.8 599.6Z" class="o"/><path d="M395.1 599.8L398.4 605.6L391.8 605.6Z" class="o"/><path d="M402.1 587.9L405.4 593.7L398.8 593.7Z" class="o"/><path d="M409.0 590.8L412.3 596.6L405.7 596.6Z" class="o"/><path d="M416.0 606.8L419.3 612.6L412.7 612.6Z" class="o"/><path d="M423.0 596.8L426.3 602.6L419.7 602.6Z" class="o"/><path d="M430.0 587.4L433.3 593.2L426.7 593.2Z" class="o"/><path d="M436.9 606.8L440.2 612.6L433.6 612.6Z" class="o"/><path d="M443.9 598.9L447.2 604.7L440.6 604.7Z" class="o"/><path d="M450.9 593.8L454.2 599.6L447.6 599.6Z" class="o"/><path d="M457.9 608.8L461.2 614.6L454.6 614.6Z" class="o"/><path d="M464.9 600.8L468.2 606.6L461.6 606.6Z" class="o"/><path d="M471.9 604.8L475.2 610.6L468.6 610.6Z" class="o"/><path d="M478.8 608.8L482.1 614.6L475.5 614.6Z" class="o"/><path d="M485.8 596.8L489.1 602.6L482.5 602.6Z" class="o"/><path d="M492.8 593.8L496.1 599.6L489.5 599.6Z" class="o"/><path d="M499.8 608.8L503.1 614.6L496.5 614.6Z" class="o"/>
<polyline points="88.0,614.3 94.9,614.3 101.9,614.2 108.9,614.2 115.9,614.1 122.9,614.1 129.8,614.1 136.8,614.0 143.8,614.0 150.8,611.0 157.8,605.0 164.7,587.5 171.7,556.5 178.7,523.0 185.7,493.8 192.7,459.2 199.6,431.5 206.6,404.6 213.6,403.0 220.6,408.5 227.6,417.8 234.5,437.4 241.5,456.5 248.5,472.2 255.5,497.0 262.4,523.0 269.4,520.0 276.4,540.4 283.4,546.1 290.4,552.2 297.4,560.0 304.3,571.8 311.3,551.6 318.3,592.0 325.3,589.0 332.2,575.0 339.2,589.6 346.2,601.1 353.2,597.0 360.2,596.5 367.2,600.0 374.1,615.0 381.1,596.0 388.1,600.0 395.1,610.8 402.1,601.0 409.0,605.6 416.0,613.0 423.0,602.7 430.0,601.0 436.9,613.6 443.9,610.0 450.9,612.0 457.9,613.0 464.9,598.0 471.9,614.2 478.8,613.0 485.8,606.0 492.8,608.0 499.8,612.0" class="ln"/>
<path d="M88.0 617.5L91.2 611.7L84.7 611.7Z" class="o"/><path d="M94.9 617.5L98.2 611.7L91.6 611.7Z" class="o"/><path d="M101.9 617.4L105.2 611.6L98.6 611.6Z" class="o"/><path d="M108.9 617.4L112.2 611.6L105.6 611.6Z" class="o"/><path d="M115.9 617.4L119.2 611.5L112.6 611.5Z" class="o"/><path d="M122.9 617.3L126.2 611.5L119.6 611.5Z" class="o"/><path d="M129.8 617.3L133.1 611.5L126.5 611.5Z" class="o"/><path d="M136.8 617.2L140.1 611.4L133.5 611.4Z" class="o"/><path d="M143.8 617.2L147.1 611.4L140.5 611.4Z" class="o"/><path d="M150.8 614.2L154.1 608.4L147.5 608.4Z" class="o"/><path d="M157.8 608.2L161.1 602.4L154.4 602.4Z" class="o"/><path d="M164.7 590.7L168.0 584.9L161.4 584.9Z" class="o"/><path d="M171.7 559.7L175.0 553.9L168.4 553.9Z" class="o"/><path d="M178.7 526.2L182.0 520.4L175.4 520.4Z" class="o"/><path d="M185.7 497.0L189.0 491.2L182.4 491.2Z" class="o"/><path d="M192.7 462.4L196.0 456.6L189.3 456.6Z" class="o"/><path d="M199.6 434.7L202.9 428.9L196.3 428.9Z" class="o"/><path d="M206.6 407.8L209.9 402.0L203.3 402.0Z" class="o"/><path d="M213.6 406.2L216.9 400.4L210.3 400.4Z" class="o"/><path d="M220.6 411.7L223.9 405.9L217.3 405.9Z" class="o"/><path d="M227.6 421.0L230.9 415.2L224.2 415.2Z" class="o"/><path d="M234.5 440.6L237.8 434.8L231.2 434.8Z" class="o"/><path d="M241.5 459.7L244.8 453.9L238.2 453.9Z" class="o"/><path d="M248.5 475.4L251.8 469.6L245.2 469.6Z" class="o"/><path d="M255.5 500.2L258.8 494.4L252.2 494.4Z" class="o"/><path d="M262.4 526.2L265.8 520.4L259.1 520.4Z" class="o"/><path d="M269.4 523.2L272.7 517.4L266.1 517.4Z" class="o"/><path d="M276.4 543.6L279.7 537.8L273.1 537.8Z" class="o"/><path d="M283.4 549.3L286.7 543.5L280.1 543.5Z" class="o"/><path d="M290.4 555.4L293.7 549.6L287.1 549.6Z" class="o"/><path d="M297.4 563.2L300.7 557.4L294.1 557.4Z" class="o"/><path d="M304.3 575.0L307.6 569.2L301.0 569.2Z" class="o"/><path d="M311.3 554.8L314.6 549.0L308.0 549.0Z" class="o"/><path d="M318.3 595.2L321.6 589.4L315.0 589.4Z" class="o"/><path d="M325.3 592.2L328.6 586.4L322.0 586.4Z" class="o"/><path d="M332.2 578.2L335.6 572.4L328.9 572.4Z" class="o"/><path d="M339.2 592.8L342.5 587.0L335.9 587.0Z" class="o"/><path d="M346.2 604.3L349.5 598.5L342.9 598.5Z" class="o"/><path d="M353.2 600.2L356.5 594.4L349.9 594.4Z" class="o"/><path d="M360.2 599.7L363.5 593.9L356.9 593.9Z" class="o"/><path d="M367.2 603.2L370.5 597.4L363.9 597.4Z" class="o"/><path d="M374.1 618.2L377.4 612.4L370.8 612.4Z" class="o"/><path d="M381.1 599.2L384.4 593.4L377.8 593.4Z" class="o"/><path d="M388.1 603.2L391.4 597.4L384.8 597.4Z" class="o"/><path d="M395.1 614.0L398.4 608.2L391.8 608.2Z" class="o"/><path d="M402.1 604.2L405.4 598.4L398.8 598.4Z" class="o"/><path d="M409.0 608.8L412.3 603.0L405.7 603.0Z" class="o"/><path d="M416.0 616.2L419.3 610.4L412.7 610.4Z" class="o"/><path d="M423.0 605.9L426.3 600.1L419.7 600.1Z" class="o"/><path d="M430.0 604.2L433.3 598.4L426.7 598.4Z" class="o"/><path d="M436.9 616.8L440.2 611.0L433.6 611.0Z" class="o"/><path d="M443.9 613.2L447.2 607.4L440.6 607.4Z" class="o"/><path d="M450.9 615.2L454.2 609.4L447.6 609.4Z" class="o"/><path d="M457.9 616.2L461.2 610.4L454.6 610.4Z" class="o"/><path d="M464.9 601.2L468.2 595.4L461.6 595.4Z" class="o"/><path d="M471.9 617.4L475.2 611.6L468.6 611.6Z" class="o"/><path d="M478.8 616.2L482.1 610.4L475.5 610.4Z" class="o"/><path d="M485.8 609.2L489.1 603.4L482.5 603.4Z" class="o"/><path d="M492.8 611.2L496.1 605.4L489.5 605.4Z" class="o"/><path d="M499.8 615.2L503.1 609.4L496.5 609.4Z" class="o"/>
<polyline points="88.0,614.3 94.9,614.0 101.9,613.8 108.9,613.5 115.9,613.3 122.9,613.0 129.8,612.8 136.8,612.5 143.8,612.3 150.8,612.0 157.8,607.0 164.7,591.0 171.7,567.7 178.7,541.0 185.7,516.2 192.7,487.0 199.6,462.3 206.6,433.8 213.6,428.6 220.6,428.6 227.6,435.2 234.5,447.6 241.5,464.0 248.5,476.0 255.5,495.0 262.4,505.0 269.4,517.5 276.4,530.0 283.4,540.0 290.4,547.8 297.4,570.0 304.3,575.0 311.3,560.0 318.3,585.8 325.3,584.5 332.2,578.0 339.2,590.0 346.2,592.0 353.2,599.4 360.2,590.8 367.2,599.4 374.1,608.0 381.1,595.0 388.1,600.0 395.1,606.0 402.1,600.0 409.0,603.0 416.0,612.0 423.0,603.0 430.0,602.0 436.9,611.0 443.9,610.0 450.9,608.0 457.9,613.0 464.9,606.0 471.9,610.0 478.8,613.0 485.8,602.0 492.8,607.0 499.8,612.0" class="ln"/>
<rect x="85.0" y="611.4" width="5.8" height="5.8" class="o"/><rect x="92.0" y="611.1" width="5.8" height="5.8" class="o"/><rect x="99.0" y="610.9" width="5.8" height="5.8" class="o"/><rect x="106.0" y="610.6" width="5.8" height="5.8" class="o"/><rect x="113.0" y="610.4" width="5.8" height="5.8" class="o"/><rect x="120.0" y="610.1" width="5.8" height="5.8" class="o"/><rect x="126.9" y="609.9" width="5.8" height="5.8" class="o"/><rect x="133.9" y="609.6" width="5.8" height="5.8" class="o"/><rect x="140.9" y="609.4" width="5.8" height="5.8" class="o"/><rect x="147.9" y="609.1" width="5.8" height="5.8" class="o"/><rect x="154.8" y="604.1" width="5.8" height="5.8" class="o"/><rect x="161.8" y="588.1" width="5.8" height="5.8" class="o"/><rect x="168.8" y="564.8" width="5.8" height="5.8" class="o"/><rect x="175.8" y="538.1" width="5.8" height="5.8" class="o"/><rect x="182.8" y="513.3" width="5.8" height="5.8" class="o"/><rect x="189.8" y="484.1" width="5.8" height="5.8" class="o"/><rect x="196.7" y="459.4" width="5.8" height="5.8" class="o"/><rect x="203.7" y="430.9" width="5.8" height="5.8" class="o"/><rect x="210.7" y="425.7" width="5.8" height="5.8" class="o"/><rect x="217.7" y="425.7" width="5.8" height="5.8" class="o"/><rect x="224.7" y="432.3" width="5.8" height="5.8" class="o"/><rect x="231.6" y="444.7" width="5.8" height="5.8" class="o"/><rect x="238.6" y="461.1" width="5.8" height="5.8" class="o"/><rect x="245.6" y="473.1" width="5.8" height="5.8" class="o"/><rect x="252.6" y="492.1" width="5.8" height="5.8" class="o"/><rect x="259.6" y="502.1" width="5.8" height="5.8" class="o"/><rect x="266.5" y="514.6" width="5.8" height="5.8" class="o"/><rect x="273.5" y="527.1" width="5.8" height="5.8" class="o"/><rect x="280.5" y="537.1" width="5.8" height="5.8" class="o"/><rect x="287.5" y="544.9" width="5.8" height="5.8" class="o"/><rect x="294.5" y="567.1" width="5.8" height="5.8" class="o"/><rect x="301.4" y="572.1" width="5.8" height="5.8" class="o"/><rect x="308.4" y="557.1" width="5.8" height="5.8" class="o"/><rect x="315.4" y="582.9" width="5.8" height="5.8" class="o"/><rect x="322.4" y="581.6" width="5.8" height="5.8" class="o"/><rect x="329.4" y="575.1" width="5.8" height="5.8" class="o"/><rect x="336.3" y="587.1" width="5.8" height="5.8" class="o"/><rect x="343.3" y="589.1" width="5.8" height="5.8" class="o"/><rect x="350.3" y="596.5" width="5.8" height="5.8" class="o"/><rect x="357.3" y="587.9" width="5.8" height="5.8" class="o"/><rect x="364.3" y="596.5" width="5.8" height="5.8" class="o"/><rect x="371.2" y="605.1" width="5.8" height="5.8" class="o"/><rect x="378.2" y="592.1" width="5.8" height="5.8" class="o"/><rect x="385.2" y="597.1" width="5.8" height="5.8" class="o"/><rect x="392.2" y="603.1" width="5.8" height="5.8" class="o"/><rect x="399.2" y="597.1" width="5.8" height="5.8" class="o"/><rect x="406.1" y="600.1" width="5.8" height="5.8" class="o"/><rect x="413.1" y="609.1" width="5.8" height="5.8" class="o"/><rect x="420.1" y="600.1" width="5.8" height="5.8" class="o"/><rect x="427.1" y="599.1" width="5.8" height="5.8" class="o"/><rect x="434.1" y="608.1" width="5.8" height="5.8" class="o"/><rect x="441.0" y="607.1" width="5.8" height="5.8" class="o"/><rect x="448.0" y="605.1" width="5.8" height="5.8" class="o"/><rect x="455.0" y="610.1" width="5.8" height="5.8" class="o"/><rect x="462.0" y="603.1" width="5.8" height="5.8" class="o"/><rect x="469.0" y="607.1" width="5.8" height="5.8" class="o"/><rect x="475.9" y="610.1" width="5.8" height="5.8" class="o"/><rect x="482.9" y="599.1" width="5.8" height="5.8" class="o"/><rect x="489.9" y="604.1" width="5.8" height="5.8" class="o"/><rect x="496.9" y="609.1" width="5.8" height="5.8" class="o"/>
<polyline points="88.0,614.3 94.9,614.2 101.9,614.0 108.9,613.9 115.9,613.7 122.9,613.6 129.8,613.4 136.8,613.3 143.8,613.1 150.8,613.0 157.8,608.0 164.7,597.7 171.7,583.6 178.7,564.3 185.7,544.5 192.7,520.8 199.6,497.0 206.6,473.0 213.6,462.2 220.6,456.6 227.6,456.0 234.5,459.0 241.5,470.0 248.5,476.0 255.5,497.0 262.4,506.0 269.4,513.0 276.4,524.0 283.4,535.0 290.4,545.0 297.4,552.0 304.3,564.2 311.3,560.0 318.3,578.0 325.3,580.0 332.2,575.0 339.2,576.9 346.2,590.0 353.2,594.0 360.2,590.0 367.2,595.0 374.1,605.0 381.1,592.0 388.1,598.0 395.1,604.0 402.1,600.0 409.0,602.0 416.0,612.0 423.0,602.0 430.0,600.0 436.9,610.0 443.9,608.0 450.9,606.0 457.9,612.0 464.9,604.0 471.9,606.0 478.8,612.0 485.8,604.0 492.8,606.0 499.8,610.0" class="ln"/>
<path d="M88.0 610.1L92.1 614.3L88.0 618.4L83.8 614.3Z" class="o"/><path d="M94.9 610.0L99.1 614.2L94.9 618.3L90.8 614.2Z" class="o"/><path d="M101.9 609.9L106.1 614.0L101.9 618.2L97.8 614.0Z" class="o"/><path d="M108.9 609.7L113.0 613.9L108.9 618.0L104.7 613.9Z" class="o"/><path d="M115.9 609.6L120.0 613.7L115.9 617.9L111.7 613.7Z" class="o"/><path d="M122.9 609.4L127.0 613.6L122.9 617.7L118.7 613.6Z" class="o"/><path d="M129.8 609.3L134.0 613.4L129.8 617.6L125.7 613.4Z" class="o"/><path d="M136.8 609.1L141.0 613.3L136.8 617.4L132.7 613.3Z" class="o"/><path d="M143.8 609.0L147.9 613.1L143.8 617.3L139.6 613.1Z" class="o"/><path d="M150.8 608.9L154.9 613.0L150.8 617.1L146.6 613.0Z" class="o"/><path d="M157.8 603.9L161.9 608.0L157.8 612.1L153.6 608.0Z" class="o"/><path d="M164.7 593.6L168.9 597.7L164.7 601.9L160.6 597.7Z" class="o"/><path d="M171.7 579.5L175.9 583.6L171.7 587.8L167.6 583.6Z" class="o"/><path d="M178.7 560.1L182.8 564.3L178.7 568.4L174.5 564.3Z" class="o"/><path d="M185.7 540.4L189.8 544.5L185.7 548.6L181.5 544.5Z" class="o"/><path d="M192.7 516.6L196.8 520.8L192.7 524.9L188.5 520.8Z" class="o"/><path d="M199.6 492.9L203.8 497.0L199.6 501.1L195.5 497.0Z" class="o"/><path d="M206.6 468.9L210.8 473.0L206.6 477.1L202.5 473.0Z" class="o"/><path d="M213.6 458.1L217.7 462.2L213.6 466.3L209.4 462.2Z" class="o"/><path d="M220.6 452.5L224.7 456.6L220.6 460.8L216.4 456.6Z" class="o"/><path d="M227.6 451.9L231.7 456.0L227.6 460.1L223.4 456.0Z" class="o"/><path d="M234.5 454.9L238.7 459.0L234.5 463.1L230.4 459.0Z" class="o"/><path d="M241.5 465.9L245.7 470.0L241.5 474.1L237.4 470.0Z" class="o"/><path d="M248.5 471.9L252.6 476.0L248.5 480.1L244.3 476.0Z" class="o"/><path d="M255.5 492.9L259.6 497.0L255.5 501.1L251.3 497.0Z" class="o"/><path d="M262.4 501.9L266.6 506.0L262.4 510.1L258.3 506.0Z" class="o"/><path d="M269.4 508.9L273.6 513.0L269.4 517.1L265.3 513.0Z" class="o"/><path d="M276.4 519.9L280.6 524.0L276.4 528.1L272.3 524.0Z" class="o"/><path d="M283.4 530.9L287.5 535.0L283.4 539.1L279.2 535.0Z" class="o"/><path d="M290.4 540.9L294.5 545.0L290.4 549.1L286.2 545.0Z" class="o"/><path d="M297.4 547.9L301.5 552.0L297.4 556.1L293.2 552.0Z" class="o"/><path d="M304.3 560.1L308.5 564.2L304.3 568.4L300.2 564.2Z" class="o"/><path d="M311.3 555.9L315.5 560.0L311.3 564.1L307.2 560.0Z" class="o"/><path d="M318.3 573.9L322.4 578.0L318.3 582.1L314.1 578.0Z" class="o"/><path d="M325.3 575.9L329.4 580.0L325.3 584.1L321.1 580.0Z" class="o"/><path d="M332.2 570.9L336.4 575.0L332.2 579.1L328.1 575.0Z" class="o"/><path d="M339.2 572.8L343.4 576.9L339.2 581.0L335.1 576.9Z" class="o"/><path d="M346.2 585.9L350.4 590.0L346.2 594.1L342.1 590.0Z" class="o"/><path d="M353.2 589.9L357.3 594.0L353.2 598.1L349.0 594.0Z" class="o"/><path d="M360.2 585.9L364.3 590.0L360.2 594.1L356.0 590.0Z" class="o"/><path d="M367.2 590.9L371.3 595.0L367.2 599.1L363.0 595.0Z" class="o"/><path d="M374.1 600.9L378.3 605.0L374.1 609.1L370.0 605.0Z" class="o"/><path d="M381.1 587.9L385.3 592.0L381.1 596.1L377.0 592.0Z" class="o"/><path d="M388.1 593.9L392.2 598.0L388.1 602.1L383.9 598.0Z" class="o"/><path d="M395.1 599.9L399.2 604.0L395.1 608.1L390.9 604.0Z" class="o"/><path d="M402.1 595.9L406.2 600.0L402.1 604.1L397.9 600.0Z" class="o"/><path d="M409.0 597.9L413.2 602.0L409.0 606.1L404.9 602.0Z" class="o"/><path d="M416.0 607.9L420.2 612.0L416.0 616.1L411.9 612.0Z" class="o"/><path d="M423.0 597.9L427.1 602.0L423.0 606.1L418.8 602.0Z" class="o"/><path d="M430.0 595.9L434.1 600.0L430.0 604.1L425.8 600.0Z" class="o"/><path d="M436.9 605.9L441.1 610.0L436.9 614.1L432.8 610.0Z" class="o"/><path d="M443.9 603.9L448.1 608.0L443.9 612.1L439.8 608.0Z" class="o"/><path d="M450.9 601.9L455.1 606.0L450.9 610.1L446.8 606.0Z" class="o"/><path d="M457.9 607.9L462.0 612.0L457.9 616.1L453.7 612.0Z" class="o"/><path d="M464.9 599.9L469.0 604.0L464.9 608.1L460.7 604.0Z" class="o"/><path d="M471.9 601.9L476.0 606.0L471.9 610.1L467.7 606.0Z" class="o"/><path d="M478.8 607.9L483.0 612.0L478.8 616.1L474.7 612.0Z" class="o"/><path d="M485.8 599.9L490.0 604.0L485.8 608.1L481.7 604.0Z" class="o"/><path d="M492.8 601.9L496.9 606.0L492.8 610.1L488.6 606.0Z" class="o"/><path d="M499.8 605.9L503.9 610.0L499.8 614.1L495.6 610.0Z" class="o"/>
<polyline points="88.0,614.3 94.9,614.2 101.9,614.1 108.9,614.0 115.9,613.9 122.9,613.9 129.8,613.8 136.8,613.7 143.8,613.6 150.8,613.5 157.8,610.0 164.7,601.7 171.7,592.0 178.7,576.8 185.7,561.0 192.7,540.0 199.6,520.0 206.6,497.7 213.6,487.0 220.6,477.7 227.6,467.2 234.5,471.4 241.5,473.0 248.5,477.4 255.5,499.0 262.4,506.0 269.4,513.0 276.4,521.0 283.4,533.0 290.4,544.0 297.4,548.0 304.3,553.5 311.3,557.0 318.3,568.0 325.3,573.7 332.2,576.0 339.2,580.0 346.2,587.9 353.2,592.0 360.2,590.0 367.2,592.0 374.1,602.0 381.1,588.0 388.1,596.0 395.1,603.0 402.1,598.0 409.0,602.0 416.0,612.0 423.0,600.0 430.0,600.0 436.9,610.0 443.9,606.0 450.9,605.0 457.9,612.0 464.9,605.0 471.9,609.0 478.8,613.0 485.8,605.0 492.8,606.0 499.8,610.0" class="ln"/>
<circle cx="88.0" cy="614.3" r="3.0" class="o"/><circle cx="94.9" cy="614.2" r="3.0" class="o"/><circle cx="101.9" cy="614.1" r="3.0" class="o"/><circle cx="108.9" cy="614.0" r="3.0" class="o"/><circle cx="115.9" cy="613.9" r="3.0" class="o"/><circle cx="122.9" cy="613.9" r="3.0" class="o"/><circle cx="129.8" cy="613.8" r="3.0" class="o"/><circle cx="136.8" cy="613.7" r="3.0" class="o"/><circle cx="143.8" cy="613.6" r="3.0" class="o"/><circle cx="150.8" cy="613.5" r="3.0" class="o"/><circle cx="157.8" cy="610.0" r="3.0" class="o"/><circle cx="164.7" cy="601.7" r="3.0" class="o"/><circle cx="171.7" cy="592.0" r="3.0" class="o"/><circle cx="178.7" cy="576.8" r="3.0" class="o"/><circle cx="185.7" cy="561.0" r="3.0" class="o"/><circle cx="192.7" cy="540.0" r="3.0" class="o"/><circle cx="199.6" cy="520.0" r="3.0" class="o"/><circle cx="206.6" cy="497.7" r="3.0" class="o"/><circle cx="213.6" cy="487.0" r="3.0" class="o"/><circle cx="220.6" cy="477.7" r="3.0" class="o"/><circle cx="227.6" cy="467.2" r="3.0" class="o"/><circle cx="234.5" cy="471.4" r="3.0" class="o"/><circle cx="241.5" cy="473.0" r="3.0" class="o"/><circle cx="248.5" cy="477.4" r="3.0" class="o"/><circle cx="255.5" cy="499.0" r="3.0" class="o"/><circle cx="262.4" cy="506.0" r="3.0" class="o"/><circle cx="269.4" cy="513.0" r="3.0" class="o"/><circle cx="276.4" cy="521.0" r="3.0" class="o"/><circle cx="283.4" cy="533.0" r="3.0" class="o"/><circle cx="290.4" cy="544.0" r="3.0" class="o"/><circle cx="297.4" cy="548.0" r="3.0" class="o"/><circle cx="304.3" cy="553.5" r="3.0" class="o"/><circle cx="311.3" cy="557.0" r="3.0" class="o"/><circle cx="318.3" cy="568.0" r="3.0" class="o"/><circle cx="325.3" cy="573.7" r="3.0" class="o"/><circle cx="332.2" cy="576.0" r="3.0" class="o"/><circle cx="339.2" cy="580.0" r="3.0" class="o"/><circle cx="346.2" cy="587.9" r="3.0" class="o"/><circle cx="353.2" cy="592.0" r="3.0" class="o"/><circle cx="360.2" cy="590.0" r="3.0" class="o"/><circle cx="367.2" cy="592.0" r="3.0" class="o"/><circle cx="374.1" cy="602.0" r="3.0" class="o"/><circle cx="381.1" cy="588.0" r="3.0" class="o"/><circle cx="388.1" cy="596.0" r="3.0" class="o"/><circle cx="395.1" cy="603.0" r="3.0" class="o"/><circle cx="402.1" cy="598.0" r="3.0" class="o"/><circle cx="409.0" cy="602.0" r="3.0" class="o"/><circle cx="416.0" cy="612.0" r="3.0" class="o"/><circle cx="423.0" cy="600.0" r="3.0" class="o"/><circle cx="430.0" cy="600.0" r="3.0" class="o"/><circle cx="436.9" cy="610.0" r="3.0" class="o"/><circle cx="443.9" cy="606.0" r="3.0" class="o"/><circle cx="450.9" cy="605.0" r="3.0" class="o"/><circle cx="457.9" cy="612.0" r="3.0" class="o"/><circle cx="464.9" cy="605.0" r="3.0" class="o"/><circle cx="471.9" cy="609.0" r="3.0" class="o"/><circle cx="478.8" cy="613.0" r="3.0" class="o"/><circle cx="485.8" cy="605.0" r="3.0" class="o"/><circle cx="492.8" cy="606.0" r="3.0" class="o"/><circle cx="499.8" cy="610.0" r="3.0" class="o"/>
<polyline points="88.0,614.3 94.9,614.3 101.9,614.3 108.9,614.3 115.9,614.3 122.9,614.3 129.8,614.3 136.8,614.3 143.8,614.3 150.8,613.5 157.8,612.0 164.7,609.3 171.7,605.0 178.7,597.2 185.7,588.2 192.7,575.2 199.6,561.2 206.6,544.6 213.6,530.6 220.6,516.4 227.6,504.7 234.5,499.0 241.5,494.2 248.5,494.3 255.5,500.9 262.4,508.5 269.4,511.7 276.4,520.0 283.4,522.0 290.4,538.3 297.4,538.9 304.3,546.5 311.3,545.9 318.3,558.5 325.3,565.5 332.2,569.3 339.2,568.8 346.2,579.2 353.2,589.6 360.2,584.4 367.2,585.0 374.1,593.6 381.1,583.3 388.1,591.9 395.1,599.2 402.1,595.8 409.0,599.2 416.0,611.9 423.0,598.0 430.0,597.5 436.9,608.4 443.9,609.6 450.9,602.7 457.9,612.0 464.9,602.7 471.9,609.6 478.8,613.6 485.8,604.4 492.8,605.6 499.8,608.0" class="ln"/>
<ellipse cx="88.0" cy="614.3" rx="3.45" ry="3.25" class="f"/><ellipse cx="94.9" cy="614.3" rx="3.45" ry="3.25" class="f"/><ellipse cx="101.9" cy="614.3" rx="3.45" ry="3.25" class="f"/><ellipse cx="108.9" cy="614.3" rx="3.45" ry="3.25" class="f"/><ellipse cx="115.9" cy="614.3" rx="3.45" ry="3.25" class="f"/><ellipse cx="122.9" cy="614.3" rx="3.45" ry="3.25" class="f"/><ellipse cx="129.8" cy="614.3" rx="3.45" ry="3.25" class="f"/><ellipse cx="136.8" cy="614.3" rx="3.45" ry="3.25" class="f"/><ellipse cx="143.8" cy="614.3" rx="3.45" ry="3.25" class="f"/><ellipse cx="150.8" cy="613.5" rx="3.45" ry="3.25" class="f"/><ellipse cx="157.8" cy="612.0" rx="3.45" ry="3.25" class="f"/><ellipse cx="164.7" cy="609.3" rx="3.45" ry="3.25" class="f"/><ellipse cx="171.7" cy="605.0" rx="3.45" ry="3.25" class="f"/><ellipse cx="178.7" cy="597.2" rx="3.45" ry="3.25" class="f"/><ellipse cx="185.7" cy="588.2" rx="3.45" ry="3.25" class="f"/><ellipse cx="192.7" cy="575.2" rx="3.45" ry="3.25" class="f"/><ellipse cx="199.6" cy="561.2" rx="3.45" ry="3.25" class="f"/><ellipse cx="206.6" cy="544.6" rx="3.45" ry="3.25" class="f"/><ellipse cx="213.6" cy="530.6" rx="3.45" ry="3.25" class="f"/><ellipse cx="220.6" cy="516.4" rx="3.45" ry="3.25" class="f"/><ellipse cx="227.6" cy="504.7" rx="3.45" ry="3.25" class="f"/><ellipse cx="234.5" cy="499.0" rx="3.45" ry="3.25" class="f"/><ellipse cx="241.5" cy="494.2" rx="3.45" ry="3.25" class="f"/><ellipse cx="248.5" cy="494.3" rx="3.45" ry="3.25" class="f"/><ellipse cx="255.5" cy="500.9" rx="3.45" ry="3.25" class="f"/><ellipse cx="262.4" cy="508.5" rx="3.45" ry="3.25" class="f"/><ellipse cx="269.4" cy="511.7" rx="3.45" ry="3.25" class="f"/><ellipse cx="276.4" cy="520.0" rx="3.45" ry="3.25" class="f"/><ellipse cx="283.4" cy="522.0" rx="3.45" ry="3.25" class="f"/><ellipse cx="290.4" cy="538.3" rx="3.45" ry="3.25" class="f"/><ellipse cx="297.4" cy="538.9" rx="3.45" ry="3.25" class="f"/><ellipse cx="304.3" cy="546.5" rx="3.45" ry="3.25" class="f"/><ellipse cx="311.3" cy="545.9" rx="3.45" ry="3.25" class="f"/><ellipse cx="318.3" cy="558.5" rx="3.45" ry="3.25" class="f"/><ellipse cx="325.3" cy="565.5" rx="3.45" ry="3.25" class="f"/><ellipse cx="332.2" cy="569.3" rx="3.45" ry="3.25" class="f"/><ellipse cx="339.2" cy="568.8" rx="3.45" ry="3.25" class="f"/><ellipse cx="346.2" cy="579.2" rx="3.45" ry="3.25" class="f"/><ellipse cx="353.2" cy="589.6" rx="3.45" ry="3.25" class="f"/><ellipse cx="360.2" cy="584.4" rx="3.45" ry="3.25" class="f"/><ellipse cx="367.2" cy="585.0" rx="3.45" ry="3.25" class="f"/><ellipse cx="374.1" cy="593.6" rx="3.45" ry="3.25" class="f"/><ellipse cx="381.1" cy="583.3" rx="3.45" ry="3.25" class="f"/><ellipse cx="388.1" cy="591.9" rx="3.45" ry="3.25" class="f"/><ellipse cx="395.1" cy="599.2" rx="3.45" ry="3.25" class="f"/><ellipse cx="402.1" cy="595.8" rx="3.45" ry="3.25" class="f"/><ellipse cx="409.0" cy="599.2" rx="3.45" ry="3.25" class="f"/><ellipse cx="416.0" cy="611.9" rx="3.45" ry="3.25" class="f"/><ellipse cx="423.0" cy="598.0" rx="3.45" ry="3.25" class="f"/><ellipse cx="430.0" cy="597.5" rx="3.45" ry="3.25" class="f"/><ellipse cx="436.9" cy="608.4" rx="3.45" ry="3.25" class="f"/><ellipse cx="443.9" cy="609.6" rx="3.45" ry="3.25" class="f"/><ellipse cx="450.9" cy="602.7" rx="3.45" ry="3.25" class="f"/><ellipse cx="457.9" cy="612.0" rx="3.45" ry="3.25" class="f"/><ellipse cx="464.9" cy="602.7" rx="3.45" ry="3.25" class="f"/><ellipse cx="471.9" cy="609.6" rx="3.45" ry="3.25" class="f"/><ellipse cx="478.8" cy="613.6" rx="3.45" ry="3.25" class="f"/><ellipse cx="485.8" cy="604.4" rx="3.45" ry="3.25" class="f"/><ellipse cx="492.8" cy="605.6" rx="3.45" ry="3.25" class="f"/><ellipse cx="499.8" cy="608.0" rx="3.45" ry="3.25" class="f"/>
</g>
<line x1="79" y1="302.5" x2="83.5" y2="302.5" class="ax"/>
<text x="64.3" y="307.9" font-size="17.8" text-anchor="end" textLength="10.5" lengthAdjust="spacingAndGlyphs">0</text>
<line x1="79" y1="243.7" x2="83.5" y2="243.7" class="ax"/>
<text x="64.3" y="249.1" font-size="17.8" text-anchor="end" textLength="21.0" lengthAdjust="spacingAndGlyphs">50</text>
<line x1="79" y1="184.9" x2="83.5" y2="184.9" class="ax"/>
<text x="64.3" y="190.3" font-size="17.8" text-anchor="end" textLength="31.5" lengthAdjust="spacingAndGlyphs">100</text>
<line x1="79" y1="126.1" x2="83.5" y2="126.1" class="ax"/>
<text x="64.3" y="131.5" font-size="17.8" text-anchor="end" textLength="31.5" lengthAdjust="spacingAndGlyphs">150</text>
<line x1="79" y1="67.3" x2="83.5" y2="67.3" class="ax"/>
<text x="64.3" y="72.7" font-size="17.8" text-anchor="end" textLength="31.5" lengthAdjust="spacingAndGlyphs">200</text>
<line x1="79" y1="8.5" x2="83.5" y2="8.5" class="ax"/>
<text x="64.3" y="13.9" font-size="17.8" text-anchor="end" textLength="31.5" lengthAdjust="spacingAndGlyphs">250</text>
<line x1="79" y1="614.5" x2="83.5" y2="614.5" class="ax"/>
<text x="64.3" y="619.9" font-size="17.8" text-anchor="end" textLength="10.5" lengthAdjust="spacingAndGlyphs">0</text>
<line x1="79" y1="565.3" x2="83.5" y2="565.3" class="ax"/>
<text x="64.3" y="570.7" font-size="17.8" text-anchor="end" textLength="21.0" lengthAdjust="spacingAndGlyphs">50</text>
<line x1="79" y1="516.0" x2="83.5" y2="516.0" class="ax"/>
<text x="64.3" y="521.4" font-size="17.8" text-anchor="end" textLength="31.5" lengthAdjust="spacingAndGlyphs">100</text>
<line x1="79" y1="466.8" x2="83.5" y2="466.8" class="ax"/>
<text x="64.3" y="472.2" font-size="17.8" text-anchor="end" textLength="31.5" lengthAdjust="spacingAndGlyphs">150</text>
<line x1="79" y1="417.5" x2="83.5" y2="417.5" class="ax"/>
<text x="64.3" y="422.9" font-size="17.8" text-anchor="end" textLength="31.5" lengthAdjust="spacingAndGlyphs">200</text>
<line x1="79" y1="368.3" x2="83.5" y2="368.3" class="ax"/>
<text x="64.3" y="373.7" font-size="17.8" text-anchor="end" textLength="31.5" lengthAdjust="spacingAndGlyphs">250</text>
<line x1="83.5" y1="302.5" x2="83.5" y2="308.0" class="ax"/>
<line x1="189.1" y1="302.5" x2="189.1" y2="308.0" class="ax"/>
<line x1="294.2" y1="302.5" x2="294.2" y2="308.0" class="ax"/>
<line x1="399.3" y1="302.5" x2="399.3" y2="308.0" class="ax"/>
<line x1="504.5" y1="302.5" x2="504.5" y2="308.0" class="ax"/>
<line x1="83.5" y1="614.5" x2="83.5" y2="619.0" class="ax"/>
<line x1="189.1" y1="614.5" x2="189.1" y2="619.0" class="ax"/>
<line x1="294.2" y1="614.5" x2="294.2" y2="619.0" class="ax"/>
<line x1="399.3" y1="614.5" x2="399.3" y2="619.0" class="ax"/>
<line x1="504.5" y1="614.5" x2="504.5" y2="619.0" class="ax"/>
<text x="85.5" y="641.6" font-size="17.6" text-anchor="middle" textLength="10.4" lengthAdjust="spacingAndGlyphs">0</text>
<text x="190.6" y="641.6" font-size="17.6" text-anchor="middle" textLength="10.4" lengthAdjust="spacingAndGlyphs">5</text>
<text x="297.4" y="641.6" font-size="17.6" text-anchor="middle" textLength="20.8" lengthAdjust="spacingAndGlyphs">10</text>
<text x="403.8" y="641.6" font-size="17.6" text-anchor="middle" textLength="20.8" lengthAdjust="spacingAndGlyphs">15</text>
<text x="508.3" y="641.6" font-size="17.6" text-anchor="middle" textLength="20.8" lengthAdjust="spacingAndGlyphs">20</text>
<text x="295.6" y="666" font-size="19.6" text-anchor="middle" textLength="106.5" lengthAdjust="spacingAndGlyphs">Time (min)</text>
<text transform="translate(15.8,318) rotate(-90)" font-size="19.6" text-anchor="middle" textLength="144.5" lengthAdjust="spacingAndGlyphs">Thrombin (nM)</text>
<text x="95.6" y="41.8" font-size="34.5" text-anchor="start" textLength="24.6" lengthAdjust="spacingAndGlyphs" font-weight="bold">A</text>
<text x="95.8" y="356.2" font-size="34" text-anchor="start" font-weight="bold">B</text>
<rect x="342.7" y="30.6" width="143.8" height="100.8" class="ax"/>
<line x1="340.5" y1="119.6" x2="342.7" y2="119.6" class="ax"/>
<text x="338.6" y="124.0" font-size="12.5" text-anchor="end">100</text>
<line x1="340.5" y1="93.5" x2="342.7" y2="93.5" class="ax"/>
<text x="338.6" y="97.9" font-size="12.5" text-anchor="end">120</text>
<line x1="340.5" y1="67.3" x2="342.7" y2="67.3" class="ax"/>
<text x="338.6" y="71.7" font-size="12.5" text-anchor="end">140</text>
<line x1="340.5" y1="41.2" x2="342.7" y2="41.2" class="ax"/>
<text x="338.6" y="45.6" font-size="12.5" text-anchor="end">160</text>
<line x1="360.3" y1="131.4" x2="360.3" y2="133.6" class="ax"/>
<line x1="380.0" y1="131.4" x2="380.0" y2="133.6" class="ax"/>
<line x1="399.7" y1="131.4" x2="399.7" y2="133.6" class="ax"/>
<line x1="419.4" y1="131.4" x2="419.4" y2="133.6" class="ax"/>
<line x1="439.1" y1="131.4" x2="439.1" y2="133.6" class="ax"/>
<line x1="458.8" y1="131.4" x2="458.8" y2="133.6" class="ax"/>
<line x1="478.5" y1="131.4" x2="478.5" y2="133.6" class="ax"/>
<text x="359.6" y="149.0" font-size="12.5" text-anchor="middle">0.0</text>
<text x="399.0" y="149.0" font-size="12.5" text-anchor="middle">1.0</text>
<text x="438.4" y="149.0" font-size="12.5" text-anchor="middle">2.0</text>
<text x="477.8" y="149.0" font-size="12.5" text-anchor="middle">3.0</text>
<text x="421.2" y="169.0" font-size="16.6" text-anchor="middle" textLength="67" lengthAdjust="spacingAndGlyphs">IgG (µM)</text>
<text transform="translate(304.4,80.9) rotate(-90)" font-size="16.6" text-anchor="middle" textLength="62.5" lengthAdjust="spacingAndGlyphs">ETP (%)</text>
<path d="M360.80 119.60 L361.47 119.48 L362.14 119.19 L362.81 118.76 L363.48 118.22 L364.15 117.59 L364.82 116.93 L365.49 116.27 L366.16 115.64 L366.83 115.06 L367.50 114.53 L368.17 114.03 L368.84 113.56 L369.51 113.09 L370.18 112.60 L370.85 112.09 L371.52 111.51 L372.19 110.85 L372.86 110.10 L373.53 109.24 L374.20 108.30 L374.87 107.34 L375.54 106.38 L376.21 105.42 L376.88 104.45 L377.55 103.48 L378.22 102.50 L378.88 101.53 L379.55 100.55 L380.22 99.57 L380.89 98.58 L381.56 97.59 L382.23 96.60 L382.90 95.60 L383.57 94.60 L384.24 93.59 L384.91 92.57 L385.58 91.55 L386.25 90.51 L386.92 89.48 L387.59 88.43 L388.26 87.40 L388.93 86.36 L389.60 85.33 L390.27 84.31 L390.94 83.30 L391.61 82.29 L392.28 81.29 L392.95 80.30 L393.62 79.32 L394.29 78.35 L394.96 77.39 L395.63 76.44 L396.30 75.51 L396.97 74.58 L397.64 73.67 L398.31 72.77 L398.98 71.89 L399.65 71.02 L400.32 70.17 L400.99 69.33 L401.66 68.50 L402.33 67.70 L403.00 66.91 L403.67 66.13 L404.34 65.38 L405.01 64.64 L405.68 63.92 L406.35 63.21 L407.02 62.53 L407.69 61.86 L408.36 61.21 L409.03 60.58 L409.70 59.97 L410.37 59.38 L411.04 58.81 L411.71 58.26 L412.38 57.72 L413.05 57.20 L413.72 56.71 L414.38 56.23 L415.05 55.76 L415.72 55.31 L416.39 54.87 L417.06 54.45 L417.73 54.04 L418.40 53.65 L419.07 53.27 L419.74 52.91 L420.41 52.56 L421.08 52.22 L421.75 51.90 L422.42 51.59 L423.09 51.29 L423.76 51.00 L424.43 50.72 L425.10 50.45 L425.77 50.19 L426.44 49.94 L427.11 49.70 L427.78 49.46 L428.45 49.23 L429.12 49.01 L429.79 48.80 L430.46 48.58 L431.13 48.38 L431.80 48.17 L432.47 47.97 L433.14 47.78 L433.81 47.58 L434.48 47.39 L435.15 47.20 L435.82 47.02 L436.49 46.83 L437.16 46.64 L437.83 46.46 L438.50 46.28 L439.17 46.09 L439.84 45.91 L440.51 45.73 L441.18 45.55 L441.85 45.37 L442.52 45.19 L443.19 45.01 L443.86 44.83 L444.53 44.65 L445.20 44.47 L445.87 44.29 L446.54 44.11 L447.21 43.94 L447.88 43.76 L448.55 43.59 L449.22 43.42 L449.88 43.25 L450.55 43.08 L451.22 42.92 L451.89 42.75 L452.56 42.59 L453.23 42.43 L453.90 42.28 L454.57 42.12 L455.24 41.97 L455.91 41.83 L456.58 41.68 L457.25 41.54 L457.92 41.40 L458.59 41.27 L459.26 41.14 L459.93 41.01 L460.60 40.89 L461.27 40.77 L461.94 40.65 L462.61 40.53 L463.28 40.42 L463.95 40.31 L464.62 40.21 L465.29 40.10 L465.96 40.00 L466.63 39.90 L467.30 39.80" fill="none" stroke="#000" stroke-width="1.25"/>
<circle cx="360.8" cy="119.6" r="2.35" fill="#000"/>
<circle cx="366.9" cy="115.0" r="2.35" fill="#000"/>
<circle cx="373.7" cy="109.0" r="2.35" fill="#000"/>
<circle cx="387.1" cy="89.2" r="2.35" fill="#000"/>
<circle cx="414.0" cy="56.5" r="2.35" fill="#000"/>
<circle cx="467.3" cy="39.8" r="2.35" fill="#000"/>
<rect x="342.8" y="339" width="143.7" height="100.4" class="ax"/>
<line x1="340.6" y1="428.3" x2="342.8" y2="428.3" class="ax"/>
<text x="338.6" y="432.7" font-size="12.5" text-anchor="end">100</text>
<line x1="340.6" y1="402.1" x2="342.8" y2="402.1" class="ax"/>
<text x="338.6" y="406.5" font-size="12.5" text-anchor="end">120</text>
<line x1="340.6" y1="375.8" x2="342.8" y2="375.8" class="ax"/>
<text x="338.6" y="380.2" font-size="12.5" text-anchor="end">140</text>
<line x1="340.6" y1="349.6" x2="342.8" y2="349.6" class="ax"/>
<text x="338.6" y="354.0" font-size="12.5" text-anchor="end">160</text>
<line x1="354.7" y1="439.4" x2="354.7" y2="441.4" class="ax"/>
<text x="354.7" y="458.0" font-size="12.8" text-anchor="middle">0</text>
<line x1="378.8" y1="439.4" x2="378.8" y2="441.4" class="ax"/>
<text x="378.8" y="458.0" font-size="12.8" text-anchor="middle">20</text>
<line x1="402.8" y1="439.4" x2="402.8" y2="441.4" class="ax"/>
<text x="402.8" y="458.0" font-size="12.8" text-anchor="middle">40</text>
<line x1="426.8" y1="439.4" x2="426.8" y2="441.4" class="ax"/>
<text x="426.8" y="458.0" font-size="12.8" text-anchor="middle">60</text>
<line x1="450.9" y1="439.4" x2="450.9" y2="441.4" class="ax"/>
<text x="450.9" y="458.0" font-size="12.8" text-anchor="middle">80</text>
<line x1="474.9" y1="439.4" x2="474.9" y2="441.4" class="ax"/>
<text x="474.9" y="458.0" font-size="12.8" text-anchor="middle">100</text>
<text x="423.2" y="480.6" font-size="16.6" text-anchor="middle" textLength="101.5" lengthAdjust="spacingAndGlyphs">Protein S (%)</text>
<text transform="translate(304.6,388.6) rotate(-90)" font-size="16.6" text-anchor="middle" textLength="62.8" lengthAdjust="spacingAndGlyphs">ETP (%)</text>
<line x1="354.7" y1="349.6" x2="474.9" y2="428.3" stroke="#333" stroke-width="0.9"/>
<circle cx="354.7" cy="349.4" r="2.35" fill="#000"/>
<circle cx="366.7" cy="362.8" r="2.35" fill="#000"/>
<circle cx="384.6" cy="371.4" r="2.35" fill="#000"/>
<circle cx="402.8" cy="381.3" r="2.35" fill="#000"/>
<circle cx="420.6" cy="390.3" r="2.35" fill="#000"/>
<circle cx="438.7" cy="408.7" r="2.35" fill="#000"/>
<circle cx="456.7" cy="412.3" r="2.35" fill="#000"/>
<circle cx="475.0" cy="428.4" r="2.35" fill="#000"/>
</svg>
</body></html>
